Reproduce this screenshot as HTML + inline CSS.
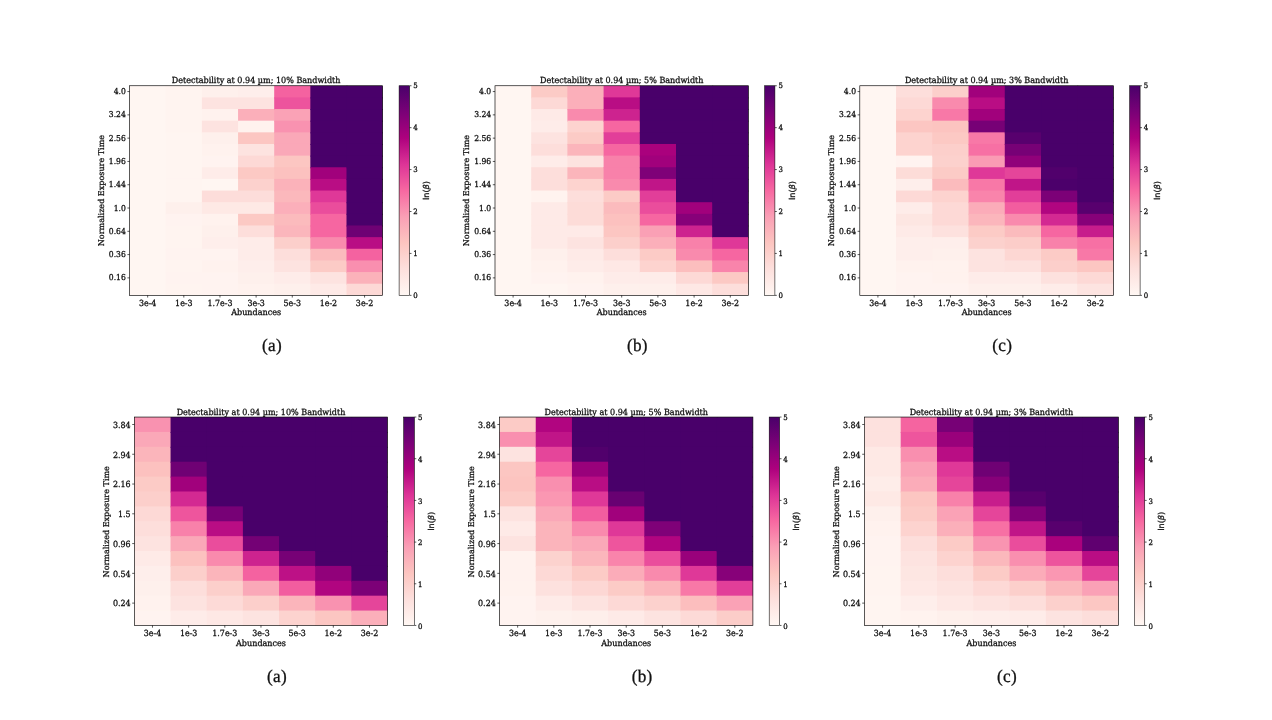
<!DOCTYPE html>
<html lang="en"><head><meta charset="utf-8"><title>Detectability heatmaps</title>
<style>
html,body{margin:0;padding:0;background:#fff;}
body{width:1272px;height:720px;overflow:hidden;}
svg{display:block;font-family:"DejaVu Serif","Liberation Serif",serif;}
text{fill:#111;stroke:#111;stroke-width:0.28px;text-rendering:geometricPrecision;}
</style></head><body>
<svg width="1272" height="720" viewBox="0 0 1272 720">
<defs><linearGradient id="rdpu" x1="0" y1="1" x2="0" y2="0"><stop offset="0.0000" stop-color="#fff7f3"/><stop offset="0.1250" stop-color="#fde0dd"/><stop offset="0.2500" stop-color="#fcc5c0"/><stop offset="0.3750" stop-color="#fa9fb5"/><stop offset="0.5000" stop-color="#f768a1"/><stop offset="0.6250" stop-color="#dd3497"/><stop offset="0.7500" stop-color="#ae017e"/><stop offset="0.8750" stop-color="#7a0177"/><stop offset="1.0000" stop-color="#49006a"/></linearGradient></defs>
<rect x="0" y="0" width="1272" height="720" fill="#ffffff"/>
<g>
<rect x="129.60" y="85.75" width="37.15" height="12.64" fill="#fff6f2"/>
<rect x="129.60" y="97.39" width="37.15" height="12.64" fill="#fff6f2"/>
<rect x="129.60" y="109.04" width="37.15" height="12.64" fill="#fff6f2"/>
<rect x="129.60" y="120.68" width="37.15" height="12.64" fill="#fff6f2"/>
<rect x="129.60" y="132.33" width="37.15" height="12.64" fill="#fff6f2"/>
<rect x="129.60" y="143.97" width="37.15" height="12.64" fill="#fff6f2"/>
<rect x="129.60" y="155.62" width="37.15" height="12.64" fill="#fff6f2"/>
<rect x="129.60" y="167.26" width="37.15" height="12.64" fill="#fff6f2"/>
<rect x="129.60" y="178.91" width="37.15" height="12.64" fill="#fff6f2"/>
<rect x="129.60" y="190.55" width="37.15" height="12.64" fill="#fff6f2"/>
<rect x="129.60" y="202.19" width="37.15" height="12.64" fill="#fff6f2"/>
<rect x="129.60" y="213.84" width="37.15" height="12.64" fill="#fff6f2"/>
<rect x="129.60" y="225.48" width="37.15" height="12.64" fill="#fff6f2"/>
<rect x="129.60" y="237.13" width="37.15" height="12.64" fill="#fff6f2"/>
<rect x="129.60" y="248.77" width="37.15" height="12.64" fill="#fff6f2"/>
<rect x="129.60" y="260.42" width="37.15" height="12.64" fill="#fff6f2"/>
<rect x="129.60" y="272.06" width="37.15" height="12.64" fill="#fff6f2"/>
<rect x="129.60" y="283.71" width="37.15" height="11.64" fill="#fff6f2"/>
<rect x="165.75" y="85.75" width="37.15" height="12.64" fill="#fff4f0"/>
<rect x="165.75" y="97.39" width="37.15" height="12.64" fill="#fff4f0"/>
<rect x="165.75" y="109.04" width="37.15" height="12.64" fill="#fff4f0"/>
<rect x="165.75" y="120.68" width="37.15" height="12.64" fill="#fff4f0"/>
<rect x="165.75" y="132.33" width="37.15" height="12.64" fill="#fff5f1"/>
<rect x="165.75" y="143.97" width="37.15" height="12.64" fill="#fff5f1"/>
<rect x="165.75" y="155.62" width="37.15" height="12.64" fill="#fff5f1"/>
<rect x="165.75" y="167.26" width="37.15" height="12.64" fill="#fff5f1"/>
<rect x="165.75" y="178.91" width="37.15" height="12.64" fill="#fff5f1"/>
<rect x="165.75" y="190.55" width="37.15" height="12.64" fill="#fff5f1"/>
<rect x="165.75" y="202.19" width="37.15" height="12.64" fill="#fef0ec"/>
<rect x="165.75" y="213.84" width="37.15" height="12.64" fill="#fff3f0"/>
<rect x="165.75" y="225.48" width="37.15" height="12.64" fill="#fff4f0"/>
<rect x="165.75" y="237.13" width="37.15" height="12.64" fill="#fff4f0"/>
<rect x="165.75" y="248.77" width="37.15" height="12.64" fill="#fff3f0"/>
<rect x="165.75" y="260.42" width="37.15" height="12.64" fill="#fff4f0"/>
<rect x="165.75" y="272.06" width="37.15" height="12.64" fill="#fff3f0"/>
<rect x="165.75" y="283.71" width="37.15" height="11.64" fill="#fff4f0"/>
<rect x="201.90" y="85.75" width="37.15" height="12.64" fill="#fef0ec"/>
<rect x="201.90" y="97.39" width="37.15" height="12.64" fill="#fde3e0"/>
<rect x="201.90" y="109.04" width="37.15" height="12.64" fill="#fff2ee"/>
<rect x="201.90" y="120.68" width="37.15" height="12.64" fill="#fde3e0"/>
<rect x="201.90" y="132.33" width="37.15" height="12.64" fill="#fef0ec"/>
<rect x="201.90" y="143.97" width="37.15" height="12.64" fill="#fff2ee"/>
<rect x="201.90" y="155.62" width="37.15" height="12.64" fill="#fff3f0"/>
<rect x="201.90" y="167.26" width="37.15" height="12.64" fill="#feece9"/>
<rect x="201.90" y="178.91" width="37.15" height="12.64" fill="#fff6f2"/>
<rect x="201.90" y="190.55" width="37.15" height="12.64" fill="#fdddda"/>
<rect x="201.90" y="202.19" width="37.15" height="12.64" fill="#fee9e5"/>
<rect x="201.90" y="213.84" width="37.15" height="12.64" fill="#fff2ee"/>
<rect x="201.90" y="225.48" width="37.15" height="12.64" fill="#fef0ec"/>
<rect x="201.90" y="237.13" width="37.15" height="12.64" fill="#feeeeb"/>
<rect x="201.90" y="248.77" width="37.15" height="12.64" fill="#fff3f0"/>
<rect x="201.90" y="260.42" width="37.15" height="12.64" fill="#fff2ee"/>
<rect x="201.90" y="272.06" width="37.15" height="12.64" fill="#fff3f0"/>
<rect x="201.90" y="283.71" width="37.15" height="11.64" fill="#fff3f0"/>
<rect x="238.05" y="85.75" width="37.15" height="12.64" fill="#feeeeb"/>
<rect x="238.05" y="97.39" width="37.15" height="12.64" fill="#fde3e0"/>
<rect x="238.05" y="109.04" width="37.15" height="12.64" fill="#fbafba"/>
<rect x="238.05" y="120.68" width="37.15" height="12.64" fill="#fff2ee"/>
<rect x="238.05" y="132.33" width="37.15" height="12.64" fill="#fcc6c2"/>
<rect x="238.05" y="143.97" width="37.15" height="12.64" fill="#fde3e0"/>
<rect x="238.05" y="155.62" width="37.15" height="12.64" fill="#fdd9d6"/>
<rect x="238.05" y="167.26" width="37.15" height="12.64" fill="#fcc9c4"/>
<rect x="238.05" y="178.91" width="37.15" height="12.64" fill="#fcd1cd"/>
<rect x="238.05" y="190.55" width="37.15" height="12.64" fill="#fdddda"/>
<rect x="238.05" y="202.19" width="37.15" height="12.64" fill="#fee9e5"/>
<rect x="238.05" y="213.84" width="37.15" height="12.64" fill="#fcc9c4"/>
<rect x="238.05" y="225.48" width="37.15" height="12.64" fill="#fddedb"/>
<rect x="238.05" y="237.13" width="37.15" height="12.64" fill="#feece9"/>
<rect x="238.05" y="248.77" width="37.15" height="12.64" fill="#feece9"/>
<rect x="238.05" y="260.42" width="37.15" height="12.64" fill="#feeeeb"/>
<rect x="238.05" y="272.06" width="37.15" height="12.64" fill="#fef0ec"/>
<rect x="238.05" y="283.71" width="37.15" height="11.64" fill="#fff2ee"/>
<rect x="274.20" y="85.75" width="37.15" height="12.64" fill="#f462a0"/>
<rect x="274.20" y="97.39" width="37.15" height="12.64" fill="#ed549d"/>
<rect x="274.20" y="109.04" width="37.15" height="12.64" fill="#faa2b6"/>
<rect x="274.20" y="120.68" width="37.15" height="12.64" fill="#f992b0"/>
<rect x="274.20" y="132.33" width="37.15" height="12.64" fill="#faa8b8"/>
<rect x="274.20" y="143.97" width="37.15" height="12.64" fill="#faa8b8"/>
<rect x="274.20" y="155.62" width="37.15" height="12.64" fill="#fcc6c2"/>
<rect x="274.20" y="167.26" width="37.15" height="12.64" fill="#fcc1bf"/>
<rect x="274.20" y="178.91" width="37.15" height="12.64" fill="#fbb2ba"/>
<rect x="274.20" y="190.55" width="37.15" height="12.64" fill="#fbb8bc"/>
<rect x="274.20" y="202.19" width="37.15" height="12.64" fill="#fbafba"/>
<rect x="274.20" y="213.84" width="37.15" height="12.64" fill="#fbbbbd"/>
<rect x="274.20" y="225.48" width="37.15" height="12.64" fill="#fbb6bc"/>
<rect x="274.20" y="237.13" width="37.15" height="12.64" fill="#fccfcb"/>
<rect x="274.20" y="248.77" width="37.15" height="12.64" fill="#fddedb"/>
<rect x="274.20" y="260.42" width="37.15" height="12.64" fill="#fde3e0"/>
<rect x="274.20" y="272.06" width="37.15" height="12.64" fill="#feece9"/>
<rect x="274.20" y="283.71" width="37.15" height="11.64" fill="#fef0ec"/>
<rect x="310.35" y="85.75" width="37.15" height="12.64" fill="#49006a"/>
<rect x="310.35" y="97.39" width="37.15" height="12.64" fill="#49006a"/>
<rect x="310.35" y="109.04" width="37.15" height="12.64" fill="#49006a"/>
<rect x="310.35" y="120.68" width="37.15" height="12.64" fill="#49006a"/>
<rect x="310.35" y="132.33" width="37.15" height="12.64" fill="#49006a"/>
<rect x="310.35" y="143.97" width="37.15" height="12.64" fill="#49006a"/>
<rect x="310.35" y="155.62" width="37.15" height="12.64" fill="#49006a"/>
<rect x="310.35" y="167.26" width="37.15" height="12.64" fill="#a1017c"/>
<rect x="310.35" y="178.91" width="37.15" height="12.64" fill="#b90d84"/>
<rect x="310.35" y="190.55" width="37.15" height="12.64" fill="#df3898"/>
<rect x="310.35" y="202.19" width="37.15" height="12.64" fill="#ea4d9c"/>
<rect x="310.35" y="213.84" width="37.15" height="12.64" fill="#f666a1"/>
<rect x="310.35" y="225.48" width="37.15" height="12.64" fill="#f666a1"/>
<rect x="310.35" y="237.13" width="37.15" height="12.64" fill="#f98aad"/>
<rect x="310.35" y="248.77" width="37.15" height="12.64" fill="#fbbbbd"/>
<rect x="310.35" y="260.42" width="37.15" height="12.64" fill="#fccbc6"/>
<rect x="310.35" y="272.06" width="37.15" height="12.64" fill="#fde3e0"/>
<rect x="310.35" y="283.71" width="37.15" height="11.64" fill="#feeae7"/>
<rect x="346.50" y="85.75" width="36.15" height="12.64" fill="#49006a"/>
<rect x="346.50" y="97.39" width="36.15" height="12.64" fill="#49006a"/>
<rect x="346.50" y="109.04" width="36.15" height="12.64" fill="#49006a"/>
<rect x="346.50" y="120.68" width="36.15" height="12.64" fill="#49006a"/>
<rect x="346.50" y="132.33" width="36.15" height="12.64" fill="#49006a"/>
<rect x="346.50" y="143.97" width="36.15" height="12.64" fill="#49006a"/>
<rect x="346.50" y="155.62" width="36.15" height="12.64" fill="#49006a"/>
<rect x="346.50" y="167.26" width="36.15" height="12.64" fill="#49006a"/>
<rect x="346.50" y="178.91" width="36.15" height="12.64" fill="#49006a"/>
<rect x="346.50" y="190.55" width="36.15" height="12.64" fill="#49006a"/>
<rect x="346.50" y="202.19" width="36.15" height="12.64" fill="#49006a"/>
<rect x="346.50" y="213.84" width="36.15" height="12.64" fill="#49006a"/>
<rect x="346.50" y="225.48" width="36.15" height="12.64" fill="#6f0174"/>
<rect x="346.50" y="237.13" width="36.15" height="12.64" fill="#b90d84"/>
<rect x="346.50" y="248.77" width="36.15" height="12.64" fill="#f462a0"/>
<rect x="346.50" y="260.42" width="36.15" height="12.64" fill="#f98faf"/>
<rect x="346.50" y="272.06" width="36.15" height="12.64" fill="#fbb2ba"/>
<rect x="346.50" y="283.71" width="36.15" height="11.64" fill="#fdd9d6"/>
<rect x="129.60" y="85.75" width="253.05" height="209.60" fill="none" stroke="#000" stroke-width="0.65"/>
<line x1="147.67" y1="295.35" x2="147.67" y2="297.55" stroke="#000" stroke-width="0.65"/>
<text transform="translate(147.67,305.65) scale(1,1.06)" text-anchor="middle" font-size="7.95">3e-4</text>
<line x1="183.82" y1="295.35" x2="183.82" y2="297.55" stroke="#000" stroke-width="0.65"/>
<text transform="translate(183.82,305.65) scale(1,1.06)" text-anchor="middle" font-size="7.95">1e-3</text>
<line x1="219.97" y1="295.35" x2="219.97" y2="297.55" stroke="#000" stroke-width="0.65"/>
<text transform="translate(219.97,305.65) scale(1,1.06)" text-anchor="middle" font-size="7.95">1.7e-3</text>
<line x1="256.12" y1="295.35" x2="256.12" y2="297.55" stroke="#000" stroke-width="0.65"/>
<text transform="translate(256.12,305.65) scale(1,1.06)" text-anchor="middle" font-size="7.95">3e-3</text>
<line x1="292.27" y1="295.35" x2="292.27" y2="297.55" stroke="#000" stroke-width="0.65"/>
<text transform="translate(292.27,305.65) scale(1,1.06)" text-anchor="middle" font-size="7.95">5e-3</text>
<line x1="328.42" y1="295.35" x2="328.42" y2="297.55" stroke="#000" stroke-width="0.65"/>
<text transform="translate(328.42,305.65) scale(1,1.06)" text-anchor="middle" font-size="7.95">1e-2</text>
<line x1="364.57" y1="295.35" x2="364.57" y2="297.55" stroke="#000" stroke-width="0.65"/>
<text transform="translate(364.57,305.65) scale(1,1.06)" text-anchor="middle" font-size="7.95">3e-2</text>
<text transform="translate(256.12,315.25) scale(1,1.06)" text-anchor="middle" font-size="8.05">Abundances</text>
<line x1="127.40" y1="91.57" x2="129.60" y2="91.57" stroke="#000" stroke-width="0.65"/>
<text transform="translate(125.80,94.07) scale(1,1.06)" text-anchor="end" font-size="7.65">4.0</text>
<line x1="127.40" y1="114.86" x2="129.60" y2="114.86" stroke="#000" stroke-width="0.65"/>
<text transform="translate(125.80,117.36) scale(1,1.06)" text-anchor="end" font-size="7.65">3.24</text>
<line x1="127.40" y1="138.15" x2="129.60" y2="138.15" stroke="#000" stroke-width="0.65"/>
<text transform="translate(125.80,140.65) scale(1,1.06)" text-anchor="end" font-size="7.65">2.56</text>
<line x1="127.40" y1="161.44" x2="129.60" y2="161.44" stroke="#000" stroke-width="0.65"/>
<text transform="translate(125.80,163.94) scale(1,1.06)" text-anchor="end" font-size="7.65">1.96</text>
<line x1="127.40" y1="184.73" x2="129.60" y2="184.73" stroke="#000" stroke-width="0.65"/>
<text transform="translate(125.80,187.23) scale(1,1.06)" text-anchor="end" font-size="7.65">1.44</text>
<line x1="127.40" y1="208.02" x2="129.60" y2="208.02" stroke="#000" stroke-width="0.65"/>
<text transform="translate(125.80,210.52) scale(1,1.06)" text-anchor="end" font-size="7.65">1.0</text>
<line x1="127.40" y1="231.31" x2="129.60" y2="231.31" stroke="#000" stroke-width="0.65"/>
<text transform="translate(125.80,233.81) scale(1,1.06)" text-anchor="end" font-size="7.65">0.64</text>
<line x1="127.40" y1="254.59" x2="129.60" y2="254.59" stroke="#000" stroke-width="0.65"/>
<text transform="translate(125.80,257.09) scale(1,1.06)" text-anchor="end" font-size="7.65">0.36</text>
<line x1="127.40" y1="277.88" x2="129.60" y2="277.88" stroke="#000" stroke-width="0.65"/>
<text transform="translate(125.80,280.38) scale(1,1.06)" text-anchor="end" font-size="7.65">0.16</text>
<text transform="translate(103.90,190.55) rotate(-90)" text-anchor="middle" font-size="8.05">Normalized Exposure Time</text>
<text transform="translate(256.12,82.90) scale(1,1.06)" text-anchor="middle" font-size="8.05">Detectability at 0.94 µm; 10% Bandwidth</text>
<rect x="399.10" y="85.75" width="10.50" height="209.60" fill="url(#rdpu)" stroke="#000" stroke-width="0.55"/>
<line x1="409.60" y1="295.35" x2="411.50" y2="295.35" stroke="#000" stroke-width="0.65"/>
<text transform="translate(413.30,298.05) scale(1,1.06)" text-anchor="start" font-size="7.0">0</text>
<line x1="409.60" y1="253.43" x2="411.50" y2="253.43" stroke="#000" stroke-width="0.65"/>
<text transform="translate(413.30,256.13) scale(1,1.06)" text-anchor="start" font-size="7.0">1</text>
<line x1="409.60" y1="211.51" x2="411.50" y2="211.51" stroke="#000" stroke-width="0.65"/>
<text transform="translate(413.30,214.21) scale(1,1.06)" text-anchor="start" font-size="7.0">2</text>
<line x1="409.60" y1="169.59" x2="411.50" y2="169.59" stroke="#000" stroke-width="0.65"/>
<text transform="translate(413.30,172.29) scale(1,1.06)" text-anchor="start" font-size="7.0">3</text>
<line x1="409.60" y1="127.67" x2="411.50" y2="127.67" stroke="#000" stroke-width="0.65"/>
<text transform="translate(413.30,130.37) scale(1,1.06)" text-anchor="start" font-size="7.0">4</text>
<line x1="409.60" y1="85.75" x2="411.50" y2="85.75" stroke="#000" stroke-width="0.65"/>
<text transform="translate(413.30,88.45) scale(1,1.06)" text-anchor="start" font-size="7.0">5</text>
<text transform="translate(429.20,190.55) rotate(-90)" text-anchor="middle" font-size="8.15" font-family="'DejaVu Sans','Liberation Sans',sans-serif">ln(<tspan font-style="italic">β</tspan>)</text>
<text transform="translate(272.00,351.00) scale(1.08,1.12)" text-anchor="middle" font-size="15.9" letter-spacing="0.3" font-family="'Liberation Serif','DejaVu Serif',serif" class="cap">(a)</text>
</g>
<g>
<rect x="495.00" y="85.75" width="37.20" height="12.64" fill="#fff6f2"/>
<rect x="495.00" y="97.39" width="37.20" height="12.64" fill="#fff6f2"/>
<rect x="495.00" y="109.04" width="37.20" height="12.64" fill="#fff6f2"/>
<rect x="495.00" y="120.68" width="37.20" height="12.64" fill="#fff6f2"/>
<rect x="495.00" y="132.33" width="37.20" height="12.64" fill="#fff6f2"/>
<rect x="495.00" y="143.97" width="37.20" height="12.64" fill="#fff6f2"/>
<rect x="495.00" y="155.62" width="37.20" height="12.64" fill="#fff6f2"/>
<rect x="495.00" y="167.26" width="37.20" height="12.64" fill="#fff6f2"/>
<rect x="495.00" y="178.91" width="37.20" height="12.64" fill="#fff6f2"/>
<rect x="495.00" y="190.55" width="37.20" height="12.64" fill="#fff6f2"/>
<rect x="495.00" y="202.19" width="37.20" height="12.64" fill="#fff6f2"/>
<rect x="495.00" y="213.84" width="37.20" height="12.64" fill="#fff6f2"/>
<rect x="495.00" y="225.48" width="37.20" height="12.64" fill="#fff6f2"/>
<rect x="495.00" y="237.13" width="37.20" height="12.64" fill="#fff6f2"/>
<rect x="495.00" y="248.77" width="37.20" height="12.64" fill="#fff6f2"/>
<rect x="495.00" y="260.42" width="37.20" height="12.64" fill="#fff6f2"/>
<rect x="495.00" y="272.06" width="37.20" height="12.64" fill="#fff6f2"/>
<rect x="495.00" y="283.71" width="37.20" height="11.64" fill="#fff6f2"/>
<rect x="531.20" y="85.75" width="37.20" height="12.64" fill="#fccbc6"/>
<rect x="531.20" y="97.39" width="37.20" height="12.64" fill="#fdd9d6"/>
<rect x="531.20" y="109.04" width="37.20" height="12.64" fill="#feeae7"/>
<rect x="531.20" y="120.68" width="37.20" height="12.64" fill="#feece9"/>
<rect x="531.20" y="132.33" width="37.20" height="12.64" fill="#fde3e0"/>
<rect x="531.20" y="143.97" width="37.20" height="12.64" fill="#fddedb"/>
<rect x="531.20" y="155.62" width="37.20" height="12.64" fill="#feece9"/>
<rect x="531.20" y="167.26" width="37.20" height="12.64" fill="#fddedb"/>
<rect x="531.20" y="178.91" width="37.20" height="12.64" fill="#fddedb"/>
<rect x="531.20" y="190.55" width="37.20" height="12.64" fill="#fff3ef"/>
<rect x="531.20" y="202.19" width="37.20" height="12.64" fill="#feeae7"/>
<rect x="531.20" y="213.84" width="37.20" height="12.64" fill="#feeae7"/>
<rect x="531.20" y="225.48" width="37.20" height="12.64" fill="#feeae7"/>
<rect x="531.20" y="237.13" width="37.20" height="12.64" fill="#feeae7"/>
<rect x="531.20" y="248.77" width="37.20" height="12.64" fill="#fef0ec"/>
<rect x="531.20" y="260.42" width="37.20" height="12.64" fill="#fff2ee"/>
<rect x="531.20" y="272.06" width="37.20" height="12.64" fill="#fff3f0"/>
<rect x="531.20" y="283.71" width="37.20" height="11.64" fill="#fff6f2"/>
<rect x="567.40" y="85.75" width="37.20" height="12.64" fill="#fbafba"/>
<rect x="567.40" y="97.39" width="37.20" height="12.64" fill="#fbafba"/>
<rect x="567.40" y="109.04" width="37.20" height="12.64" fill="#f98aad"/>
<rect x="567.40" y="120.68" width="37.20" height="12.64" fill="#fdd3cf"/>
<rect x="567.40" y="132.33" width="37.20" height="12.64" fill="#fccbc6"/>
<rect x="567.40" y="143.97" width="37.20" height="12.64" fill="#fbb5bb"/>
<rect x="567.40" y="155.62" width="37.20" height="12.64" fill="#fde3e0"/>
<rect x="567.40" y="167.26" width="37.20" height="12.64" fill="#fbb5bb"/>
<rect x="567.40" y="178.91" width="37.20" height="12.64" fill="#fdd3cf"/>
<rect x="567.40" y="190.55" width="37.20" height="12.64" fill="#fddedb"/>
<rect x="567.40" y="202.19" width="37.20" height="12.64" fill="#fddcd8"/>
<rect x="567.40" y="213.84" width="37.20" height="12.64" fill="#fddcd8"/>
<rect x="567.40" y="225.48" width="37.20" height="12.64" fill="#feeae7"/>
<rect x="567.40" y="237.13" width="37.20" height="12.64" fill="#fde3e0"/>
<rect x="567.40" y="248.77" width="37.20" height="12.64" fill="#feeae7"/>
<rect x="567.40" y="260.42" width="37.20" height="12.64" fill="#feece9"/>
<rect x="567.40" y="272.06" width="37.20" height="12.64" fill="#fff2ee"/>
<rect x="567.40" y="283.71" width="37.20" height="11.64" fill="#fff3f0"/>
<rect x="603.60" y="85.75" width="37.20" height="12.64" fill="#df3898"/>
<rect x="603.60" y="97.39" width="37.20" height="12.64" fill="#b90d84"/>
<rect x="603.60" y="109.04" width="37.20" height="12.64" fill="#cd238f"/>
<rect x="603.60" y="120.68" width="37.20" height="12.64" fill="#f666a1"/>
<rect x="603.60" y="132.33" width="37.20" height="12.64" fill="#e23e99"/>
<rect x="603.60" y="143.97" width="37.20" height="12.64" fill="#f666a1"/>
<rect x="603.60" y="155.62" width="37.20" height="12.64" fill="#f881aa"/>
<rect x="603.60" y="167.26" width="37.20" height="12.64" fill="#f881aa"/>
<rect x="603.60" y="178.91" width="37.20" height="12.64" fill="#f98aad"/>
<rect x="603.60" y="190.55" width="37.20" height="12.64" fill="#fccbc6"/>
<rect x="603.60" y="202.19" width="37.20" height="12.64" fill="#fbbbbd"/>
<rect x="603.60" y="213.84" width="37.20" height="12.64" fill="#fcc1bf"/>
<rect x="603.60" y="225.48" width="37.20" height="12.64" fill="#fcc6c2"/>
<rect x="603.60" y="237.13" width="37.20" height="12.64" fill="#fccfcb"/>
<rect x="603.60" y="248.77" width="37.20" height="12.64" fill="#fddedb"/>
<rect x="603.60" y="260.42" width="37.20" height="12.64" fill="#fee8e5"/>
<rect x="603.60" y="272.06" width="37.20" height="12.64" fill="#feece9"/>
<rect x="603.60" y="283.71" width="37.20" height="11.64" fill="#fef0ec"/>
<rect x="639.80" y="85.75" width="37.20" height="12.64" fill="#49006a"/>
<rect x="639.80" y="97.39" width="37.20" height="12.64" fill="#49006a"/>
<rect x="639.80" y="109.04" width="37.20" height="12.64" fill="#49006a"/>
<rect x="639.80" y="120.68" width="37.20" height="12.64" fill="#49006a"/>
<rect x="639.80" y="132.33" width="37.20" height="12.64" fill="#49006a"/>
<rect x="639.80" y="143.97" width="37.20" height="12.64" fill="#aa017d"/>
<rect x="639.80" y="155.62" width="37.20" height="12.64" fill="#a1017c"/>
<rect x="639.80" y="167.26" width="37.20" height="12.64" fill="#7f0178"/>
<rect x="639.80" y="178.91" width="37.20" height="12.64" fill="#c01588"/>
<rect x="639.80" y="190.55" width="37.20" height="12.64" fill="#e23e99"/>
<rect x="639.80" y="202.19" width="37.20" height="12.64" fill="#ea4d9c"/>
<rect x="639.80" y="213.84" width="37.20" height="12.64" fill="#f666a1"/>
<rect x="639.80" y="225.48" width="37.20" height="12.64" fill="#faa0b5"/>
<rect x="639.80" y="237.13" width="37.20" height="12.64" fill="#fbafba"/>
<rect x="639.80" y="248.77" width="37.20" height="12.64" fill="#fccbc6"/>
<rect x="639.80" y="260.42" width="37.20" height="12.64" fill="#fdd3cf"/>
<rect x="639.80" y="272.06" width="37.20" height="12.64" fill="#feece9"/>
<rect x="639.80" y="283.71" width="37.20" height="11.64" fill="#fef0ec"/>
<rect x="676.00" y="85.75" width="37.20" height="12.64" fill="#49006a"/>
<rect x="676.00" y="97.39" width="37.20" height="12.64" fill="#49006a"/>
<rect x="676.00" y="109.04" width="37.20" height="12.64" fill="#49006a"/>
<rect x="676.00" y="120.68" width="37.20" height="12.64" fill="#49006a"/>
<rect x="676.00" y="132.33" width="37.20" height="12.64" fill="#49006a"/>
<rect x="676.00" y="143.97" width="37.20" height="12.64" fill="#49006a"/>
<rect x="676.00" y="155.62" width="37.20" height="12.64" fill="#49006a"/>
<rect x="676.00" y="167.26" width="37.20" height="12.64" fill="#49006a"/>
<rect x="676.00" y="178.91" width="37.20" height="12.64" fill="#49006a"/>
<rect x="676.00" y="190.55" width="37.20" height="12.64" fill="#49006a"/>
<rect x="676.00" y="202.19" width="37.20" height="12.64" fill="#a1017c"/>
<rect x="676.00" y="213.84" width="37.20" height="12.64" fill="#870179"/>
<rect x="676.00" y="225.48" width="37.20" height="12.64" fill="#cd238f"/>
<rect x="676.00" y="237.13" width="37.20" height="12.64" fill="#f881aa"/>
<rect x="676.00" y="248.77" width="37.20" height="12.64" fill="#f98aad"/>
<rect x="676.00" y="260.42" width="37.20" height="12.64" fill="#fcbebe"/>
<rect x="676.00" y="272.06" width="37.20" height="12.64" fill="#fdd9d6"/>
<rect x="676.00" y="283.71" width="37.20" height="11.64" fill="#fee8e5"/>
<rect x="712.20" y="85.75" width="36.20" height="12.64" fill="#49006a"/>
<rect x="712.20" y="97.39" width="36.20" height="12.64" fill="#49006a"/>
<rect x="712.20" y="109.04" width="36.20" height="12.64" fill="#49006a"/>
<rect x="712.20" y="120.68" width="36.20" height="12.64" fill="#49006a"/>
<rect x="712.20" y="132.33" width="36.20" height="12.64" fill="#49006a"/>
<rect x="712.20" y="143.97" width="36.20" height="12.64" fill="#49006a"/>
<rect x="712.20" y="155.62" width="36.20" height="12.64" fill="#49006a"/>
<rect x="712.20" y="167.26" width="36.20" height="12.64" fill="#49006a"/>
<rect x="712.20" y="178.91" width="36.20" height="12.64" fill="#49006a"/>
<rect x="712.20" y="190.55" width="36.20" height="12.64" fill="#49006a"/>
<rect x="712.20" y="202.19" width="36.20" height="12.64" fill="#49006a"/>
<rect x="712.20" y="213.84" width="36.20" height="12.64" fill="#49006a"/>
<rect x="712.20" y="225.48" width="36.20" height="12.64" fill="#49006a"/>
<rect x="712.20" y="237.13" width="36.20" height="12.64" fill="#df3898"/>
<rect x="712.20" y="248.77" width="36.20" height="12.64" fill="#f666a1"/>
<rect x="712.20" y="260.42" width="36.20" height="12.64" fill="#f984ab"/>
<rect x="712.20" y="272.06" width="36.20" height="12.64" fill="#fcc9c4"/>
<rect x="712.20" y="283.71" width="36.20" height="11.64" fill="#fddedb"/>
<rect x="495.00" y="85.75" width="253.40" height="209.60" fill="none" stroke="#000" stroke-width="0.65"/>
<line x1="513.10" y1="295.35" x2="513.10" y2="297.55" stroke="#000" stroke-width="0.65"/>
<text transform="translate(513.10,305.65) scale(1,1.06)" text-anchor="middle" font-size="7.95">3e-4</text>
<line x1="549.30" y1="295.35" x2="549.30" y2="297.55" stroke="#000" stroke-width="0.65"/>
<text transform="translate(549.30,305.65) scale(1,1.06)" text-anchor="middle" font-size="7.95">1e-3</text>
<line x1="585.50" y1="295.35" x2="585.50" y2="297.55" stroke="#000" stroke-width="0.65"/>
<text transform="translate(585.50,305.65) scale(1,1.06)" text-anchor="middle" font-size="7.95">1.7e-3</text>
<line x1="621.70" y1="295.35" x2="621.70" y2="297.55" stroke="#000" stroke-width="0.65"/>
<text transform="translate(621.70,305.65) scale(1,1.06)" text-anchor="middle" font-size="7.95">3e-3</text>
<line x1="657.90" y1="295.35" x2="657.90" y2="297.55" stroke="#000" stroke-width="0.65"/>
<text transform="translate(657.90,305.65) scale(1,1.06)" text-anchor="middle" font-size="7.95">5e-3</text>
<line x1="694.10" y1="295.35" x2="694.10" y2="297.55" stroke="#000" stroke-width="0.65"/>
<text transform="translate(694.10,305.65) scale(1,1.06)" text-anchor="middle" font-size="7.95">1e-2</text>
<line x1="730.30" y1="295.35" x2="730.30" y2="297.55" stroke="#000" stroke-width="0.65"/>
<text transform="translate(730.30,305.65) scale(1,1.06)" text-anchor="middle" font-size="7.95">3e-2</text>
<text transform="translate(621.70,315.25) scale(1,1.06)" text-anchor="middle" font-size="8.05">Abundances</text>
<line x1="492.80" y1="91.57" x2="495.00" y2="91.57" stroke="#000" stroke-width="0.65"/>
<text transform="translate(491.20,94.07) scale(1,1.06)" text-anchor="end" font-size="7.65">4.0</text>
<line x1="492.80" y1="114.86" x2="495.00" y2="114.86" stroke="#000" stroke-width="0.65"/>
<text transform="translate(491.20,117.36) scale(1,1.06)" text-anchor="end" font-size="7.65">3.24</text>
<line x1="492.80" y1="138.15" x2="495.00" y2="138.15" stroke="#000" stroke-width="0.65"/>
<text transform="translate(491.20,140.65) scale(1,1.06)" text-anchor="end" font-size="7.65">2.56</text>
<line x1="492.80" y1="161.44" x2="495.00" y2="161.44" stroke="#000" stroke-width="0.65"/>
<text transform="translate(491.20,163.94) scale(1,1.06)" text-anchor="end" font-size="7.65">1.96</text>
<line x1="492.80" y1="184.73" x2="495.00" y2="184.73" stroke="#000" stroke-width="0.65"/>
<text transform="translate(491.20,187.23) scale(1,1.06)" text-anchor="end" font-size="7.65">1.44</text>
<line x1="492.80" y1="208.02" x2="495.00" y2="208.02" stroke="#000" stroke-width="0.65"/>
<text transform="translate(491.20,210.52) scale(1,1.06)" text-anchor="end" font-size="7.65">1.0</text>
<line x1="492.80" y1="231.31" x2="495.00" y2="231.31" stroke="#000" stroke-width="0.65"/>
<text transform="translate(491.20,233.81) scale(1,1.06)" text-anchor="end" font-size="7.65">0.64</text>
<line x1="492.80" y1="254.59" x2="495.00" y2="254.59" stroke="#000" stroke-width="0.65"/>
<text transform="translate(491.20,257.09) scale(1,1.06)" text-anchor="end" font-size="7.65">0.36</text>
<line x1="492.80" y1="277.88" x2="495.00" y2="277.88" stroke="#000" stroke-width="0.65"/>
<text transform="translate(491.20,280.38) scale(1,1.06)" text-anchor="end" font-size="7.65">0.16</text>
<text transform="translate(469.30,190.55) rotate(-90)" text-anchor="middle" font-size="8.05">Normalized Exposure Time</text>
<text transform="translate(621.70,82.90) scale(1,1.06)" text-anchor="middle" font-size="8.05">Detectability at 0.94 µm; 5% Bandwidth</text>
<rect x="764.65" y="85.75" width="10.25" height="209.60" fill="url(#rdpu)" stroke="#000" stroke-width="0.55"/>
<line x1="774.90" y1="295.35" x2="776.80" y2="295.35" stroke="#000" stroke-width="0.65"/>
<text transform="translate(778.60,298.05) scale(1,1.06)" text-anchor="start" font-size="7.0">0</text>
<line x1="774.90" y1="253.43" x2="776.80" y2="253.43" stroke="#000" stroke-width="0.65"/>
<text transform="translate(778.60,256.13) scale(1,1.06)" text-anchor="start" font-size="7.0">1</text>
<line x1="774.90" y1="211.51" x2="776.80" y2="211.51" stroke="#000" stroke-width="0.65"/>
<text transform="translate(778.60,214.21) scale(1,1.06)" text-anchor="start" font-size="7.0">2</text>
<line x1="774.90" y1="169.59" x2="776.80" y2="169.59" stroke="#000" stroke-width="0.65"/>
<text transform="translate(778.60,172.29) scale(1,1.06)" text-anchor="start" font-size="7.0">3</text>
<line x1="774.90" y1="127.67" x2="776.80" y2="127.67" stroke="#000" stroke-width="0.65"/>
<text transform="translate(778.60,130.37) scale(1,1.06)" text-anchor="start" font-size="7.0">4</text>
<line x1="774.90" y1="85.75" x2="776.80" y2="85.75" stroke="#000" stroke-width="0.65"/>
<text transform="translate(778.60,88.45) scale(1,1.06)" text-anchor="start" font-size="7.0">5</text>
<text transform="translate(794.50,190.55) rotate(-90)" text-anchor="middle" font-size="8.15" font-family="'DejaVu Sans','Liberation Sans',sans-serif">ln(<tspan font-style="italic">β</tspan>)</text>
<text transform="translate(637.40,351.00) scale(1.08,1.12)" text-anchor="middle" font-size="15.9" letter-spacing="0.3" font-family="'Liberation Serif','DejaVu Serif',serif" class="cap">(b)</text>
</g>
<g>
<rect x="859.80" y="85.75" width="37.24" height="12.64" fill="#fff6f2"/>
<rect x="859.80" y="97.39" width="37.24" height="12.64" fill="#fff6f2"/>
<rect x="859.80" y="109.04" width="37.24" height="12.64" fill="#fff6f2"/>
<rect x="859.80" y="120.68" width="37.24" height="12.64" fill="#fff6f2"/>
<rect x="859.80" y="132.33" width="37.24" height="12.64" fill="#fff6f2"/>
<rect x="859.80" y="143.97" width="37.24" height="12.64" fill="#fff6f2"/>
<rect x="859.80" y="155.62" width="37.24" height="12.64" fill="#fff6f2"/>
<rect x="859.80" y="167.26" width="37.24" height="12.64" fill="#fff6f2"/>
<rect x="859.80" y="178.91" width="37.24" height="12.64" fill="#fff6f2"/>
<rect x="859.80" y="190.55" width="37.24" height="12.64" fill="#fff6f2"/>
<rect x="859.80" y="202.19" width="37.24" height="12.64" fill="#fff6f2"/>
<rect x="859.80" y="213.84" width="37.24" height="12.64" fill="#fff6f2"/>
<rect x="859.80" y="225.48" width="37.24" height="12.64" fill="#fff6f2"/>
<rect x="859.80" y="237.13" width="37.24" height="12.64" fill="#fff6f2"/>
<rect x="859.80" y="248.77" width="37.24" height="12.64" fill="#fff6f2"/>
<rect x="859.80" y="260.42" width="37.24" height="12.64" fill="#fff6f2"/>
<rect x="859.80" y="272.06" width="37.24" height="12.64" fill="#fff6f2"/>
<rect x="859.80" y="283.71" width="37.24" height="11.64" fill="#fff6f2"/>
<rect x="896.04" y="85.75" width="37.24" height="12.64" fill="#fddedb"/>
<rect x="896.04" y="97.39" width="37.24" height="12.64" fill="#fdd9d6"/>
<rect x="896.04" y="109.04" width="37.24" height="12.64" fill="#fdd3cf"/>
<rect x="896.04" y="120.68" width="37.24" height="12.64" fill="#fcc6c2"/>
<rect x="896.04" y="132.33" width="37.24" height="12.64" fill="#fdd3cf"/>
<rect x="896.04" y="143.97" width="37.24" height="12.64" fill="#fdd3cf"/>
<rect x="896.04" y="155.62" width="37.24" height="12.64" fill="#fff3f0"/>
<rect x="896.04" y="167.26" width="37.24" height="12.64" fill="#fddcd8"/>
<rect x="896.04" y="178.91" width="37.24" height="12.64" fill="#feeeeb"/>
<rect x="896.04" y="190.55" width="37.24" height="12.64" fill="#fdd9d6"/>
<rect x="896.04" y="202.19" width="37.24" height="12.64" fill="#feece9"/>
<rect x="896.04" y="213.84" width="37.24" height="12.64" fill="#fde6e2"/>
<rect x="896.04" y="225.48" width="37.24" height="12.64" fill="#feeae7"/>
<rect x="896.04" y="237.13" width="37.24" height="12.64" fill="#feeeeb"/>
<rect x="896.04" y="248.77" width="37.24" height="12.64" fill="#feeeeb"/>
<rect x="896.04" y="260.42" width="37.24" height="12.64" fill="#fff2ee"/>
<rect x="896.04" y="272.06" width="37.24" height="12.64" fill="#fff3f0"/>
<rect x="896.04" y="283.71" width="37.24" height="11.64" fill="#fff3f0"/>
<rect x="932.29" y="85.75" width="37.24" height="12.64" fill="#fccfcb"/>
<rect x="932.29" y="97.39" width="37.24" height="12.64" fill="#f98aad"/>
<rect x="932.29" y="109.04" width="37.24" height="12.64" fill="#f878a7"/>
<rect x="932.29" y="120.68" width="37.24" height="12.64" fill="#fcc4c0"/>
<rect x="932.29" y="132.33" width="37.24" height="12.64" fill="#fcc9c4"/>
<rect x="932.29" y="143.97" width="37.24" height="12.64" fill="#fccfcb"/>
<rect x="932.29" y="155.62" width="37.24" height="12.64" fill="#fcd1cd"/>
<rect x="932.29" y="167.26" width="37.24" height="12.64" fill="#fccbc6"/>
<rect x="932.29" y="178.91" width="37.24" height="12.64" fill="#fbbbbd"/>
<rect x="932.29" y="190.55" width="37.24" height="12.64" fill="#fdd3cf"/>
<rect x="932.29" y="202.19" width="37.24" height="12.64" fill="#fdd9d6"/>
<rect x="932.29" y="213.84" width="37.24" height="12.64" fill="#fdd9d6"/>
<rect x="932.29" y="225.48" width="37.24" height="12.64" fill="#fde1de"/>
<rect x="932.29" y="237.13" width="37.24" height="12.64" fill="#feeeeb"/>
<rect x="932.29" y="248.77" width="37.24" height="12.64" fill="#fef0ec"/>
<rect x="932.29" y="260.42" width="37.24" height="12.64" fill="#fff2ee"/>
<rect x="932.29" y="272.06" width="37.24" height="12.64" fill="#fff2ee"/>
<rect x="932.29" y="283.71" width="37.24" height="11.64" fill="#fff3f0"/>
<rect x="968.53" y="85.75" width="37.24" height="12.64" fill="#a1017c"/>
<rect x="968.53" y="97.39" width="37.24" height="12.64" fill="#b90d84"/>
<rect x="968.53" y="109.04" width="37.24" height="12.64" fill="#a1017c"/>
<rect x="968.53" y="120.68" width="37.24" height="12.64" fill="#770176"/>
<rect x="968.53" y="132.33" width="37.24" height="12.64" fill="#f878a7"/>
<rect x="968.53" y="143.97" width="37.24" height="12.64" fill="#f770a4"/>
<rect x="968.53" y="155.62" width="37.24" height="12.64" fill="#fa9bb4"/>
<rect x="968.53" y="167.26" width="37.24" height="12.64" fill="#df3898"/>
<rect x="968.53" y="178.91" width="37.24" height="12.64" fill="#f878a7"/>
<rect x="968.53" y="190.55" width="37.24" height="12.64" fill="#f984ab"/>
<rect x="968.53" y="202.19" width="37.24" height="12.64" fill="#fbacb9"/>
<rect x="968.53" y="213.84" width="37.24" height="12.64" fill="#fbb6bc"/>
<rect x="968.53" y="225.48" width="37.24" height="12.64" fill="#fccbc6"/>
<rect x="968.53" y="237.13" width="37.24" height="12.64" fill="#fcd1cd"/>
<rect x="968.53" y="248.77" width="37.24" height="12.64" fill="#fde3e0"/>
<rect x="968.53" y="260.42" width="37.24" height="12.64" fill="#fde3e0"/>
<rect x="968.53" y="272.06" width="37.24" height="12.64" fill="#feece9"/>
<rect x="968.53" y="283.71" width="37.24" height="11.64" fill="#fef0ec"/>
<rect x="1004.77" y="85.75" width="37.24" height="12.64" fill="#49006a"/>
<rect x="1004.77" y="97.39" width="37.24" height="12.64" fill="#49006a"/>
<rect x="1004.77" y="109.04" width="37.24" height="12.64" fill="#49006a"/>
<rect x="1004.77" y="120.68" width="37.24" height="12.64" fill="#49006a"/>
<rect x="1004.77" y="132.33" width="37.24" height="12.64" fill="#58006e"/>
<rect x="1004.77" y="143.97" width="37.24" height="12.64" fill="#770176"/>
<rect x="1004.77" y="155.62" width="37.24" height="12.64" fill="#91017a"/>
<rect x="1004.77" y="167.26" width="37.24" height="12.64" fill="#e5459a"/>
<rect x="1004.77" y="178.91" width="37.24" height="12.64" fill="#c01588"/>
<rect x="1004.77" y="190.55" width="37.24" height="12.64" fill="#e23e99"/>
<rect x="1004.77" y="202.19" width="37.24" height="12.64" fill="#f25d9f"/>
<rect x="1004.77" y="213.84" width="37.24" height="12.64" fill="#f98aad"/>
<rect x="1004.77" y="225.48" width="37.24" height="12.64" fill="#fbbbbd"/>
<rect x="1004.77" y="237.13" width="37.24" height="12.64" fill="#fccdc9"/>
<rect x="1004.77" y="248.77" width="37.24" height="12.64" fill="#fdd7d3"/>
<rect x="1004.77" y="260.42" width="37.24" height="12.64" fill="#fde1de"/>
<rect x="1004.77" y="272.06" width="37.24" height="12.64" fill="#feece9"/>
<rect x="1004.77" y="283.71" width="37.24" height="11.64" fill="#fef0ec"/>
<rect x="1041.01" y="85.75" width="37.24" height="12.64" fill="#49006a"/>
<rect x="1041.01" y="97.39" width="37.24" height="12.64" fill="#49006a"/>
<rect x="1041.01" y="109.04" width="37.24" height="12.64" fill="#49006a"/>
<rect x="1041.01" y="120.68" width="37.24" height="12.64" fill="#49006a"/>
<rect x="1041.01" y="132.33" width="37.24" height="12.64" fill="#49006a"/>
<rect x="1041.01" y="143.97" width="37.24" height="12.64" fill="#49006a"/>
<rect x="1041.01" y="155.62" width="37.24" height="12.64" fill="#49006a"/>
<rect x="1041.01" y="167.26" width="37.24" height="12.64" fill="#51006c"/>
<rect x="1041.01" y="178.91" width="37.24" height="12.64" fill="#4c006b"/>
<rect x="1041.01" y="190.55" width="37.24" height="12.64" fill="#7c0177"/>
<rect x="1041.01" y="202.19" width="37.24" height="12.64" fill="#b10580"/>
<rect x="1041.01" y="213.84" width="37.24" height="12.64" fill="#d32992"/>
<rect x="1041.01" y="225.48" width="37.24" height="12.64" fill="#f666a1"/>
<rect x="1041.01" y="237.13" width="37.24" height="12.64" fill="#f881aa"/>
<rect x="1041.01" y="248.77" width="37.24" height="12.64" fill="#fccbc6"/>
<rect x="1041.01" y="260.42" width="37.24" height="12.64" fill="#fccfcb"/>
<rect x="1041.01" y="272.06" width="37.24" height="12.64" fill="#fde1de"/>
<rect x="1041.01" y="283.71" width="37.24" height="11.64" fill="#feece9"/>
<rect x="1077.26" y="85.75" width="36.24" height="12.64" fill="#49006a"/>
<rect x="1077.26" y="97.39" width="36.24" height="12.64" fill="#49006a"/>
<rect x="1077.26" y="109.04" width="36.24" height="12.64" fill="#49006a"/>
<rect x="1077.26" y="120.68" width="36.24" height="12.64" fill="#49006a"/>
<rect x="1077.26" y="132.33" width="36.24" height="12.64" fill="#49006a"/>
<rect x="1077.26" y="143.97" width="36.24" height="12.64" fill="#49006a"/>
<rect x="1077.26" y="155.62" width="36.24" height="12.64" fill="#49006a"/>
<rect x="1077.26" y="167.26" width="36.24" height="12.64" fill="#49006a"/>
<rect x="1077.26" y="178.91" width="36.24" height="12.64" fill="#49006a"/>
<rect x="1077.26" y="190.55" width="36.24" height="12.64" fill="#49006a"/>
<rect x="1077.26" y="202.19" width="36.24" height="12.64" fill="#58006e"/>
<rect x="1077.26" y="213.84" width="36.24" height="12.64" fill="#870179"/>
<rect x="1077.26" y="225.48" width="36.24" height="12.64" fill="#c71d8c"/>
<rect x="1077.26" y="237.13" width="36.24" height="12.64" fill="#f770a4"/>
<rect x="1077.26" y="248.77" width="36.24" height="12.64" fill="#f878a7"/>
<rect x="1077.26" y="260.42" width="36.24" height="12.64" fill="#fcc6c2"/>
<rect x="1077.26" y="272.06" width="36.24" height="12.64" fill="#fdd9d6"/>
<rect x="1077.26" y="283.71" width="36.24" height="11.64" fill="#fde4e1"/>
<rect x="859.80" y="85.75" width="253.70" height="209.60" fill="none" stroke="#000" stroke-width="0.65"/>
<line x1="877.92" y1="295.35" x2="877.92" y2="297.55" stroke="#000" stroke-width="0.65"/>
<text transform="translate(877.92,305.65) scale(1,1.06)" text-anchor="middle" font-size="7.95">3e-4</text>
<line x1="914.16" y1="295.35" x2="914.16" y2="297.55" stroke="#000" stroke-width="0.65"/>
<text transform="translate(914.16,305.65) scale(1,1.06)" text-anchor="middle" font-size="7.95">1e-3</text>
<line x1="950.41" y1="295.35" x2="950.41" y2="297.55" stroke="#000" stroke-width="0.65"/>
<text transform="translate(950.41,305.65) scale(1,1.06)" text-anchor="middle" font-size="7.95">1.7e-3</text>
<line x1="986.65" y1="295.35" x2="986.65" y2="297.55" stroke="#000" stroke-width="0.65"/>
<text transform="translate(986.65,305.65) scale(1,1.06)" text-anchor="middle" font-size="7.95">3e-3</text>
<line x1="1022.89" y1="295.35" x2="1022.89" y2="297.55" stroke="#000" stroke-width="0.65"/>
<text transform="translate(1022.89,305.65) scale(1,1.06)" text-anchor="middle" font-size="7.95">5e-3</text>
<line x1="1059.14" y1="295.35" x2="1059.14" y2="297.55" stroke="#000" stroke-width="0.65"/>
<text transform="translate(1059.14,305.65) scale(1,1.06)" text-anchor="middle" font-size="7.95">1e-2</text>
<line x1="1095.38" y1="295.35" x2="1095.38" y2="297.55" stroke="#000" stroke-width="0.65"/>
<text transform="translate(1095.38,305.65) scale(1,1.06)" text-anchor="middle" font-size="7.95">3e-2</text>
<text transform="translate(986.65,315.25) scale(1,1.06)" text-anchor="middle" font-size="8.05">Abundances</text>
<line x1="857.60" y1="91.57" x2="859.80" y2="91.57" stroke="#000" stroke-width="0.65"/>
<text transform="translate(856.00,94.07) scale(1,1.06)" text-anchor="end" font-size="7.65">4.0</text>
<line x1="857.60" y1="114.86" x2="859.80" y2="114.86" stroke="#000" stroke-width="0.65"/>
<text transform="translate(856.00,117.36) scale(1,1.06)" text-anchor="end" font-size="7.65">3.24</text>
<line x1="857.60" y1="138.15" x2="859.80" y2="138.15" stroke="#000" stroke-width="0.65"/>
<text transform="translate(856.00,140.65) scale(1,1.06)" text-anchor="end" font-size="7.65">2.56</text>
<line x1="857.60" y1="161.44" x2="859.80" y2="161.44" stroke="#000" stroke-width="0.65"/>
<text transform="translate(856.00,163.94) scale(1,1.06)" text-anchor="end" font-size="7.65">1.96</text>
<line x1="857.60" y1="184.73" x2="859.80" y2="184.73" stroke="#000" stroke-width="0.65"/>
<text transform="translate(856.00,187.23) scale(1,1.06)" text-anchor="end" font-size="7.65">1.44</text>
<line x1="857.60" y1="208.02" x2="859.80" y2="208.02" stroke="#000" stroke-width="0.65"/>
<text transform="translate(856.00,210.52) scale(1,1.06)" text-anchor="end" font-size="7.65">1.0</text>
<line x1="857.60" y1="231.31" x2="859.80" y2="231.31" stroke="#000" stroke-width="0.65"/>
<text transform="translate(856.00,233.81) scale(1,1.06)" text-anchor="end" font-size="7.65">0.64</text>
<line x1="857.60" y1="254.59" x2="859.80" y2="254.59" stroke="#000" stroke-width="0.65"/>
<text transform="translate(856.00,257.09) scale(1,1.06)" text-anchor="end" font-size="7.65">0.36</text>
<line x1="857.60" y1="277.88" x2="859.80" y2="277.88" stroke="#000" stroke-width="0.65"/>
<text transform="translate(856.00,280.38) scale(1,1.06)" text-anchor="end" font-size="7.65">0.16</text>
<text transform="translate(834.10,190.55) rotate(-90)" text-anchor="middle" font-size="8.05">Normalized Exposure Time</text>
<text transform="translate(986.65,82.90) scale(1,1.06)" text-anchor="middle" font-size="8.05">Detectability at 0.94 µm; 3% Bandwidth</text>
<rect x="1129.70" y="85.75" width="10.40" height="209.60" fill="url(#rdpu)" stroke="#000" stroke-width="0.55"/>
<line x1="1140.10" y1="295.35" x2="1142.00" y2="295.35" stroke="#000" stroke-width="0.65"/>
<text transform="translate(1143.80,298.05) scale(1,1.06)" text-anchor="start" font-size="7.0">0</text>
<line x1="1140.10" y1="253.43" x2="1142.00" y2="253.43" stroke="#000" stroke-width="0.65"/>
<text transform="translate(1143.80,256.13) scale(1,1.06)" text-anchor="start" font-size="7.0">1</text>
<line x1="1140.10" y1="211.51" x2="1142.00" y2="211.51" stroke="#000" stroke-width="0.65"/>
<text transform="translate(1143.80,214.21) scale(1,1.06)" text-anchor="start" font-size="7.0">2</text>
<line x1="1140.10" y1="169.59" x2="1142.00" y2="169.59" stroke="#000" stroke-width="0.65"/>
<text transform="translate(1143.80,172.29) scale(1,1.06)" text-anchor="start" font-size="7.0">3</text>
<line x1="1140.10" y1="127.67" x2="1142.00" y2="127.67" stroke="#000" stroke-width="0.65"/>
<text transform="translate(1143.80,130.37) scale(1,1.06)" text-anchor="start" font-size="7.0">4</text>
<line x1="1140.10" y1="85.75" x2="1142.00" y2="85.75" stroke="#000" stroke-width="0.65"/>
<text transform="translate(1143.80,88.45) scale(1,1.06)" text-anchor="start" font-size="7.0">5</text>
<text transform="translate(1159.70,190.55) rotate(-90)" text-anchor="middle" font-size="8.15" font-family="'DejaVu Sans','Liberation Sans',sans-serif">ln(<tspan font-style="italic">β</tspan>)</text>
<text transform="translate(1002.20,351.00) scale(1.08,1.12)" text-anchor="middle" font-size="15.9" letter-spacing="0.3" font-family="'Liberation Serif','DejaVu Serif',serif" class="cap">(c)</text>
</g>
<g>
<rect x="134.40" y="417.05" width="37.16" height="15.89" fill="#f992b0"/>
<rect x="134.40" y="431.94" width="37.16" height="15.89" fill="#faa8b8"/>
<rect x="134.40" y="446.82" width="37.16" height="15.89" fill="#fbb5bb"/>
<rect x="134.40" y="461.71" width="37.16" height="15.89" fill="#fcc1bf"/>
<rect x="134.40" y="476.59" width="37.16" height="15.89" fill="#fccbc6"/>
<rect x="134.40" y="491.48" width="37.16" height="15.89" fill="#fccfcb"/>
<rect x="134.40" y="506.36" width="37.16" height="15.89" fill="#fdd9d6"/>
<rect x="134.40" y="521.25" width="37.16" height="15.89" fill="#fddedb"/>
<rect x="134.40" y="536.14" width="37.16" height="15.89" fill="#fde3e0"/>
<rect x="134.40" y="551.02" width="37.16" height="15.89" fill="#feeae7"/>
<rect x="134.40" y="565.91" width="37.16" height="15.89" fill="#feeeeb"/>
<rect x="134.40" y="580.79" width="37.16" height="15.89" fill="#fef0ec"/>
<rect x="134.40" y="595.68" width="37.16" height="15.89" fill="#fff2ee"/>
<rect x="134.40" y="610.56" width="37.16" height="14.89" fill="#fff3f0"/>
<rect x="170.56" y="417.05" width="37.16" height="15.89" fill="#49006a"/>
<rect x="170.56" y="431.94" width="37.16" height="15.89" fill="#49006a"/>
<rect x="170.56" y="446.82" width="37.16" height="15.89" fill="#49006a"/>
<rect x="170.56" y="461.71" width="37.16" height="15.89" fill="#6f0174"/>
<rect x="170.56" y="476.59" width="37.16" height="15.89" fill="#a1017c"/>
<rect x="170.56" y="491.48" width="37.16" height="15.89" fill="#d32992"/>
<rect x="170.56" y="506.36" width="37.16" height="15.89" fill="#ee559d"/>
<rect x="170.56" y="521.25" width="37.16" height="15.89" fill="#f881aa"/>
<rect x="170.56" y="536.14" width="37.16" height="15.89" fill="#faa8b8"/>
<rect x="170.56" y="551.02" width="37.16" height="15.89" fill="#fcc1bf"/>
<rect x="170.56" y="565.91" width="37.16" height="15.89" fill="#fccfcb"/>
<rect x="170.56" y="580.79" width="37.16" height="15.89" fill="#fddedb"/>
<rect x="170.56" y="595.68" width="37.16" height="15.89" fill="#fde3e0"/>
<rect x="170.56" y="610.56" width="37.16" height="14.89" fill="#feece9"/>
<rect x="206.73" y="417.05" width="37.16" height="15.89" fill="#49006a"/>
<rect x="206.73" y="431.94" width="37.16" height="15.89" fill="#49006a"/>
<rect x="206.73" y="446.82" width="37.16" height="15.89" fill="#49006a"/>
<rect x="206.73" y="461.71" width="37.16" height="15.89" fill="#49006a"/>
<rect x="206.73" y="476.59" width="37.16" height="15.89" fill="#49006a"/>
<rect x="206.73" y="491.48" width="37.16" height="15.89" fill="#49006a"/>
<rect x="206.73" y="506.36" width="37.16" height="15.89" fill="#770176"/>
<rect x="206.73" y="521.25" width="37.16" height="15.89" fill="#b90d84"/>
<rect x="206.73" y="536.14" width="37.16" height="15.89" fill="#ea4d9c"/>
<rect x="206.73" y="551.02" width="37.16" height="15.89" fill="#f98aad"/>
<rect x="206.73" y="565.91" width="37.16" height="15.89" fill="#fbb5bb"/>
<rect x="206.73" y="580.79" width="37.16" height="15.89" fill="#fccfcb"/>
<rect x="206.73" y="595.68" width="37.16" height="15.89" fill="#fddad7"/>
<rect x="206.73" y="610.56" width="37.16" height="14.89" fill="#fee8e5"/>
<rect x="242.89" y="417.05" width="37.16" height="15.89" fill="#49006a"/>
<rect x="242.89" y="431.94" width="37.16" height="15.89" fill="#49006a"/>
<rect x="242.89" y="446.82" width="37.16" height="15.89" fill="#49006a"/>
<rect x="242.89" y="461.71" width="37.16" height="15.89" fill="#49006a"/>
<rect x="242.89" y="476.59" width="37.16" height="15.89" fill="#49006a"/>
<rect x="242.89" y="491.48" width="37.16" height="15.89" fill="#49006a"/>
<rect x="242.89" y="506.36" width="37.16" height="15.89" fill="#49006a"/>
<rect x="242.89" y="521.25" width="37.16" height="15.89" fill="#49006a"/>
<rect x="242.89" y="536.14" width="37.16" height="15.89" fill="#740175"/>
<rect x="242.89" y="551.02" width="37.16" height="15.89" fill="#cd238f"/>
<rect x="242.89" y="565.91" width="37.16" height="15.89" fill="#f462a0"/>
<rect x="242.89" y="580.79" width="37.16" height="15.89" fill="#faa8b8"/>
<rect x="242.89" y="595.68" width="37.16" height="15.89" fill="#fccfcb"/>
<rect x="242.89" y="610.56" width="37.16" height="14.89" fill="#fde3e0"/>
<rect x="279.06" y="417.05" width="37.16" height="15.89" fill="#49006a"/>
<rect x="279.06" y="431.94" width="37.16" height="15.89" fill="#49006a"/>
<rect x="279.06" y="446.82" width="37.16" height="15.89" fill="#49006a"/>
<rect x="279.06" y="461.71" width="37.16" height="15.89" fill="#49006a"/>
<rect x="279.06" y="476.59" width="37.16" height="15.89" fill="#49006a"/>
<rect x="279.06" y="491.48" width="37.16" height="15.89" fill="#49006a"/>
<rect x="279.06" y="506.36" width="37.16" height="15.89" fill="#49006a"/>
<rect x="279.06" y="521.25" width="37.16" height="15.89" fill="#49006a"/>
<rect x="279.06" y="536.14" width="37.16" height="15.89" fill="#49006a"/>
<rect x="279.06" y="551.02" width="37.16" height="15.89" fill="#770176"/>
<rect x="279.06" y="565.91" width="37.16" height="15.89" fill="#bd1186"/>
<rect x="279.06" y="580.79" width="37.16" height="15.89" fill="#f25d9f"/>
<rect x="279.06" y="595.68" width="37.16" height="15.89" fill="#fbb5bb"/>
<rect x="279.06" y="610.56" width="37.16" height="14.89" fill="#fdd3cf"/>
<rect x="315.22" y="417.05" width="37.16" height="15.89" fill="#49006a"/>
<rect x="315.22" y="431.94" width="37.16" height="15.89" fill="#49006a"/>
<rect x="315.22" y="446.82" width="37.16" height="15.89" fill="#49006a"/>
<rect x="315.22" y="461.71" width="37.16" height="15.89" fill="#49006a"/>
<rect x="315.22" y="476.59" width="37.16" height="15.89" fill="#49006a"/>
<rect x="315.22" y="491.48" width="37.16" height="15.89" fill="#49006a"/>
<rect x="315.22" y="506.36" width="37.16" height="15.89" fill="#49006a"/>
<rect x="315.22" y="521.25" width="37.16" height="15.89" fill="#49006a"/>
<rect x="315.22" y="536.14" width="37.16" height="15.89" fill="#49006a"/>
<rect x="315.22" y="551.02" width="37.16" height="15.89" fill="#49006a"/>
<rect x="315.22" y="565.91" width="37.16" height="15.89" fill="#91017a"/>
<rect x="315.22" y="580.79" width="37.16" height="15.89" fill="#b10580"/>
<rect x="315.22" y="595.68" width="37.16" height="15.89" fill="#f992b0"/>
<rect x="315.22" y="610.56" width="37.16" height="14.89" fill="#fcc6c2"/>
<rect x="351.39" y="417.05" width="36.16" height="15.89" fill="#49006a"/>
<rect x="351.39" y="431.94" width="36.16" height="15.89" fill="#49006a"/>
<rect x="351.39" y="446.82" width="36.16" height="15.89" fill="#49006a"/>
<rect x="351.39" y="461.71" width="36.16" height="15.89" fill="#49006a"/>
<rect x="351.39" y="476.59" width="36.16" height="15.89" fill="#49006a"/>
<rect x="351.39" y="491.48" width="36.16" height="15.89" fill="#49006a"/>
<rect x="351.39" y="506.36" width="36.16" height="15.89" fill="#49006a"/>
<rect x="351.39" y="521.25" width="36.16" height="15.89" fill="#49006a"/>
<rect x="351.39" y="536.14" width="36.16" height="15.89" fill="#49006a"/>
<rect x="351.39" y="551.02" width="36.16" height="15.89" fill="#49006a"/>
<rect x="351.39" y="565.91" width="36.16" height="15.89" fill="#49006a"/>
<rect x="351.39" y="580.79" width="36.16" height="15.89" fill="#7c0177"/>
<rect x="351.39" y="595.68" width="36.16" height="15.89" fill="#e5459a"/>
<rect x="351.39" y="610.56" width="36.16" height="14.89" fill="#fbafba"/>
<rect x="134.40" y="417.05" width="253.15" height="208.40" fill="none" stroke="#000" stroke-width="0.65"/>
<line x1="152.48" y1="625.45" x2="152.48" y2="627.65" stroke="#000" stroke-width="0.65"/>
<text transform="translate(152.48,635.75) scale(1,1.06)" text-anchor="middle" font-size="7.95">3e-4</text>
<line x1="188.65" y1="625.45" x2="188.65" y2="627.65" stroke="#000" stroke-width="0.65"/>
<text transform="translate(188.65,635.75) scale(1,1.06)" text-anchor="middle" font-size="7.95">1e-3</text>
<line x1="224.81" y1="625.45" x2="224.81" y2="627.65" stroke="#000" stroke-width="0.65"/>
<text transform="translate(224.81,635.75) scale(1,1.06)" text-anchor="middle" font-size="7.95">1.7e-3</text>
<line x1="260.98" y1="625.45" x2="260.98" y2="627.65" stroke="#000" stroke-width="0.65"/>
<text transform="translate(260.98,635.75) scale(1,1.06)" text-anchor="middle" font-size="7.95">3e-3</text>
<line x1="297.14" y1="625.45" x2="297.14" y2="627.65" stroke="#000" stroke-width="0.65"/>
<text transform="translate(297.14,635.75) scale(1,1.06)" text-anchor="middle" font-size="7.95">5e-3</text>
<line x1="333.30" y1="625.45" x2="333.30" y2="627.65" stroke="#000" stroke-width="0.65"/>
<text transform="translate(333.30,635.75) scale(1,1.06)" text-anchor="middle" font-size="7.95">1e-2</text>
<line x1="369.47" y1="625.45" x2="369.47" y2="627.65" stroke="#000" stroke-width="0.65"/>
<text transform="translate(369.47,635.75) scale(1,1.06)" text-anchor="middle" font-size="7.95">3e-2</text>
<text transform="translate(260.98,645.95) scale(1,1.06)" text-anchor="middle" font-size="8.05">Abundances</text>
<line x1="132.20" y1="424.49" x2="134.40" y2="424.49" stroke="#000" stroke-width="0.65"/>
<text transform="translate(130.60,427.84) scale(1,1.06)" text-anchor="end" font-size="7.95">3.84</text>
<line x1="132.20" y1="454.26" x2="134.40" y2="454.26" stroke="#000" stroke-width="0.65"/>
<text transform="translate(130.60,457.61) scale(1,1.06)" text-anchor="end" font-size="7.95">2.94</text>
<line x1="132.20" y1="484.04" x2="134.40" y2="484.04" stroke="#000" stroke-width="0.65"/>
<text transform="translate(130.60,487.39) scale(1,1.06)" text-anchor="end" font-size="7.95">2.16</text>
<line x1="132.20" y1="513.81" x2="134.40" y2="513.81" stroke="#000" stroke-width="0.65"/>
<text transform="translate(130.60,517.16) scale(1,1.06)" text-anchor="end" font-size="7.95">1.5</text>
<line x1="132.20" y1="543.58" x2="134.40" y2="543.58" stroke="#000" stroke-width="0.65"/>
<text transform="translate(130.60,546.93) scale(1,1.06)" text-anchor="end" font-size="7.95">0.96</text>
<line x1="132.20" y1="573.35" x2="134.40" y2="573.35" stroke="#000" stroke-width="0.65"/>
<text transform="translate(130.60,576.70) scale(1,1.06)" text-anchor="end" font-size="7.95">0.54</text>
<line x1="132.20" y1="603.12" x2="134.40" y2="603.12" stroke="#000" stroke-width="0.65"/>
<text transform="translate(130.60,606.47) scale(1,1.06)" text-anchor="end" font-size="7.95">0.24</text>
<text transform="translate(109.00,521.75) rotate(-90)" text-anchor="middle" font-size="8.05">Normalized Exposure Time</text>
<text transform="translate(260.98,414.65) scale(1,1.06)" text-anchor="middle" font-size="8.05">Detectability at 0.94 µm; 10% Bandwidth</text>
<rect x="403.70" y="417.05" width="10.70" height="208.40" fill="url(#rdpu)" stroke="#000" stroke-width="0.55"/>
<line x1="414.40" y1="625.45" x2="416.30" y2="625.45" stroke="#000" stroke-width="0.65"/>
<text transform="translate(418.10,628.75) scale(1,1.06)" text-anchor="start" font-size="7.0">0</text>
<line x1="414.40" y1="583.77" x2="416.30" y2="583.77" stroke="#000" stroke-width="0.65"/>
<text transform="translate(418.10,587.07) scale(1,1.06)" text-anchor="start" font-size="7.0">1</text>
<line x1="414.40" y1="542.09" x2="416.30" y2="542.09" stroke="#000" stroke-width="0.65"/>
<text transform="translate(418.10,545.39) scale(1,1.06)" text-anchor="start" font-size="7.0">2</text>
<line x1="414.40" y1="500.41" x2="416.30" y2="500.41" stroke="#000" stroke-width="0.65"/>
<text transform="translate(418.10,503.71) scale(1,1.06)" text-anchor="start" font-size="7.0">3</text>
<line x1="414.40" y1="458.73" x2="416.30" y2="458.73" stroke="#000" stroke-width="0.65"/>
<text transform="translate(418.10,462.03) scale(1,1.06)" text-anchor="start" font-size="7.0">4</text>
<line x1="414.40" y1="417.05" x2="416.30" y2="417.05" stroke="#000" stroke-width="0.65"/>
<text transform="translate(418.10,420.35) scale(1,1.06)" text-anchor="start" font-size="7.0">5</text>
<text transform="translate(434.00,521.25) rotate(-90)" text-anchor="middle" font-size="8.15" font-family="'DejaVu Sans','Liberation Sans',sans-serif">ln(<tspan font-style="italic">β</tspan>)</text>
<text transform="translate(277.00,682.00) scale(1.08,1.12)" text-anchor="middle" font-size="15.9" letter-spacing="0.3" font-family="'Liberation Serif','DejaVu Serif',serif" class="cap">(a)</text>
</g>
<g>
<rect x="499.55" y="417.05" width="37.19" height="15.89" fill="#fccbc6"/>
<rect x="499.55" y="431.94" width="37.19" height="15.89" fill="#f98faf"/>
<rect x="499.55" y="446.82" width="37.19" height="15.89" fill="#fde3e0"/>
<rect x="499.55" y="461.71" width="37.19" height="15.89" fill="#fcc6c2"/>
<rect x="499.55" y="476.59" width="37.19" height="15.89" fill="#fcc4c0"/>
<rect x="499.55" y="491.48" width="37.19" height="15.89" fill="#fccbc6"/>
<rect x="499.55" y="506.36" width="37.19" height="15.89" fill="#fde3e0"/>
<rect x="499.55" y="521.25" width="37.19" height="15.89" fill="#feeae7"/>
<rect x="499.55" y="536.14" width="37.19" height="15.89" fill="#fde3e0"/>
<rect x="499.55" y="551.02" width="37.19" height="15.89" fill="#fff2ee"/>
<rect x="499.55" y="565.91" width="37.19" height="15.89" fill="#fff2ee"/>
<rect x="499.55" y="580.79" width="37.19" height="15.89" fill="#fff2ee"/>
<rect x="499.55" y="595.68" width="37.19" height="15.89" fill="#fff3f0"/>
<rect x="499.55" y="610.56" width="37.19" height="14.89" fill="#fff3f0"/>
<rect x="535.74" y="417.05" width="37.19" height="15.89" fill="#b10580"/>
<rect x="535.74" y="431.94" width="37.19" height="15.89" fill="#c01588"/>
<rect x="535.74" y="446.82" width="37.19" height="15.89" fill="#e5459a"/>
<rect x="535.74" y="461.71" width="37.19" height="15.89" fill="#f666a1"/>
<rect x="535.74" y="476.59" width="37.19" height="15.89" fill="#f98faf"/>
<rect x="535.74" y="491.48" width="37.19" height="15.89" fill="#fa97b2"/>
<rect x="535.74" y="506.36" width="37.19" height="15.89" fill="#faa8b8"/>
<rect x="535.74" y="521.25" width="37.19" height="15.89" fill="#fbb4bb"/>
<rect x="535.74" y="536.14" width="37.19" height="15.89" fill="#fbb4bb"/>
<rect x="535.74" y="551.02" width="37.19" height="15.89" fill="#fcd2ce"/>
<rect x="535.74" y="565.91" width="37.19" height="15.89" fill="#fdd9d6"/>
<rect x="535.74" y="580.79" width="37.19" height="15.89" fill="#fde1de"/>
<rect x="535.74" y="595.68" width="37.19" height="15.89" fill="#feebe8"/>
<rect x="535.74" y="610.56" width="37.19" height="14.89" fill="#fef1ed"/>
<rect x="571.94" y="417.05" width="37.19" height="15.89" fill="#49006a"/>
<rect x="571.94" y="431.94" width="37.19" height="15.89" fill="#49006a"/>
<rect x="571.94" y="446.82" width="37.19" height="15.89" fill="#51006c"/>
<rect x="571.94" y="461.71" width="37.19" height="15.89" fill="#99017b"/>
<rect x="571.94" y="476.59" width="37.19" height="15.89" fill="#b90d84"/>
<rect x="571.94" y="491.48" width="37.19" height="15.89" fill="#df3898"/>
<rect x="571.94" y="506.36" width="37.19" height="15.89" fill="#f25d9f"/>
<rect x="571.94" y="521.25" width="37.19" height="15.89" fill="#f98aad"/>
<rect x="571.94" y="536.14" width="37.19" height="15.89" fill="#faa8b8"/>
<rect x="571.94" y="551.02" width="37.19" height="15.89" fill="#fbb6bc"/>
<rect x="571.94" y="565.91" width="37.19" height="15.89" fill="#fccbc6"/>
<rect x="571.94" y="580.79" width="37.19" height="15.89" fill="#fdd7d4"/>
<rect x="571.94" y="595.68" width="37.19" height="15.89" fill="#fde3e0"/>
<rect x="571.94" y="610.56" width="37.19" height="14.89" fill="#feefeb"/>
<rect x="608.13" y="417.05" width="37.19" height="15.89" fill="#49006a"/>
<rect x="608.13" y="431.94" width="37.19" height="15.89" fill="#49006a"/>
<rect x="608.13" y="446.82" width="37.19" height="15.89" fill="#49006a"/>
<rect x="608.13" y="461.71" width="37.19" height="15.89" fill="#49006a"/>
<rect x="608.13" y="476.59" width="37.19" height="15.89" fill="#49006a"/>
<rect x="608.13" y="491.48" width="37.19" height="15.89" fill="#680172"/>
<rect x="608.13" y="506.36" width="37.19" height="15.89" fill="#a1017c"/>
<rect x="608.13" y="521.25" width="37.19" height="15.89" fill="#df3898"/>
<rect x="608.13" y="536.14" width="37.19" height="15.89" fill="#ee559d"/>
<rect x="608.13" y="551.02" width="37.19" height="15.89" fill="#f984ab"/>
<rect x="608.13" y="565.91" width="37.19" height="15.89" fill="#fbacb9"/>
<rect x="608.13" y="580.79" width="37.19" height="15.89" fill="#fccbc6"/>
<rect x="608.13" y="595.68" width="37.19" height="15.89" fill="#fdd9d6"/>
<rect x="608.13" y="610.56" width="37.19" height="14.89" fill="#feeae7"/>
<rect x="644.32" y="417.05" width="37.19" height="15.89" fill="#49006a"/>
<rect x="644.32" y="431.94" width="37.19" height="15.89" fill="#49006a"/>
<rect x="644.32" y="446.82" width="37.19" height="15.89" fill="#49006a"/>
<rect x="644.32" y="461.71" width="37.19" height="15.89" fill="#49006a"/>
<rect x="644.32" y="476.59" width="37.19" height="15.89" fill="#49006a"/>
<rect x="644.32" y="491.48" width="37.19" height="15.89" fill="#49006a"/>
<rect x="644.32" y="506.36" width="37.19" height="15.89" fill="#49006a"/>
<rect x="644.32" y="521.25" width="37.19" height="15.89" fill="#7f0178"/>
<rect x="644.32" y="536.14" width="37.19" height="15.89" fill="#b10580"/>
<rect x="644.32" y="551.02" width="37.19" height="15.89" fill="#ea4d9c"/>
<rect x="644.32" y="565.91" width="37.19" height="15.89" fill="#f98aad"/>
<rect x="644.32" y="580.79" width="37.19" height="15.89" fill="#fbb5bb"/>
<rect x="644.32" y="595.68" width="37.19" height="15.89" fill="#fcd1cd"/>
<rect x="644.32" y="610.56" width="37.19" height="14.89" fill="#fde3e0"/>
<rect x="680.51" y="417.05" width="37.19" height="15.89" fill="#49006a"/>
<rect x="680.51" y="431.94" width="37.19" height="15.89" fill="#49006a"/>
<rect x="680.51" y="446.82" width="37.19" height="15.89" fill="#49006a"/>
<rect x="680.51" y="461.71" width="37.19" height="15.89" fill="#49006a"/>
<rect x="680.51" y="476.59" width="37.19" height="15.89" fill="#49006a"/>
<rect x="680.51" y="491.48" width="37.19" height="15.89" fill="#49006a"/>
<rect x="680.51" y="506.36" width="37.19" height="15.89" fill="#49006a"/>
<rect x="680.51" y="521.25" width="37.19" height="15.89" fill="#49006a"/>
<rect x="680.51" y="536.14" width="37.19" height="15.89" fill="#49006a"/>
<rect x="680.51" y="551.02" width="37.19" height="15.89" fill="#99017b"/>
<rect x="680.51" y="565.91" width="37.19" height="15.89" fill="#df3898"/>
<rect x="680.51" y="580.79" width="37.19" height="15.89" fill="#f878a7"/>
<rect x="680.51" y="595.68" width="37.19" height="15.89" fill="#fcbebe"/>
<rect x="680.51" y="610.56" width="37.19" height="14.89" fill="#fddad7"/>
<rect x="716.71" y="417.05" width="36.19" height="15.89" fill="#49006a"/>
<rect x="716.71" y="431.94" width="36.19" height="15.89" fill="#49006a"/>
<rect x="716.71" y="446.82" width="36.19" height="15.89" fill="#49006a"/>
<rect x="716.71" y="461.71" width="36.19" height="15.89" fill="#49006a"/>
<rect x="716.71" y="476.59" width="36.19" height="15.89" fill="#49006a"/>
<rect x="716.71" y="491.48" width="36.19" height="15.89" fill="#49006a"/>
<rect x="716.71" y="506.36" width="36.19" height="15.89" fill="#49006a"/>
<rect x="716.71" y="521.25" width="36.19" height="15.89" fill="#49006a"/>
<rect x="716.71" y="536.14" width="36.19" height="15.89" fill="#49006a"/>
<rect x="716.71" y="551.02" width="36.19" height="15.89" fill="#49006a"/>
<rect x="716.71" y="565.91" width="36.19" height="15.89" fill="#870179"/>
<rect x="716.71" y="580.79" width="36.19" height="15.89" fill="#e23e99"/>
<rect x="716.71" y="595.68" width="36.19" height="15.89" fill="#faa2b6"/>
<rect x="716.71" y="610.56" width="36.19" height="14.89" fill="#fccdc9"/>
<rect x="499.55" y="417.05" width="253.35" height="208.40" fill="none" stroke="#000" stroke-width="0.65"/>
<line x1="517.65" y1="625.45" x2="517.65" y2="627.65" stroke="#000" stroke-width="0.65"/>
<text transform="translate(517.65,635.75) scale(1,1.06)" text-anchor="middle" font-size="7.95">3e-4</text>
<line x1="553.84" y1="625.45" x2="553.84" y2="627.65" stroke="#000" stroke-width="0.65"/>
<text transform="translate(553.84,635.75) scale(1,1.06)" text-anchor="middle" font-size="7.95">1e-3</text>
<line x1="590.03" y1="625.45" x2="590.03" y2="627.65" stroke="#000" stroke-width="0.65"/>
<text transform="translate(590.03,635.75) scale(1,1.06)" text-anchor="middle" font-size="7.95">1.7e-3</text>
<line x1="626.23" y1="625.45" x2="626.23" y2="627.65" stroke="#000" stroke-width="0.65"/>
<text transform="translate(626.23,635.75) scale(1,1.06)" text-anchor="middle" font-size="7.95">3e-3</text>
<line x1="662.42" y1="625.45" x2="662.42" y2="627.65" stroke="#000" stroke-width="0.65"/>
<text transform="translate(662.42,635.75) scale(1,1.06)" text-anchor="middle" font-size="7.95">5e-3</text>
<line x1="698.61" y1="625.45" x2="698.61" y2="627.65" stroke="#000" stroke-width="0.65"/>
<text transform="translate(698.61,635.75) scale(1,1.06)" text-anchor="middle" font-size="7.95">1e-2</text>
<line x1="734.80" y1="625.45" x2="734.80" y2="627.65" stroke="#000" stroke-width="0.65"/>
<text transform="translate(734.80,635.75) scale(1,1.06)" text-anchor="middle" font-size="7.95">3e-2</text>
<text transform="translate(626.23,645.95) scale(1,1.06)" text-anchor="middle" font-size="8.05">Abundances</text>
<line x1="497.35" y1="424.49" x2="499.55" y2="424.49" stroke="#000" stroke-width="0.65"/>
<text transform="translate(495.75,427.84) scale(1,1.06)" text-anchor="end" font-size="7.95">3.84</text>
<line x1="497.35" y1="454.26" x2="499.55" y2="454.26" stroke="#000" stroke-width="0.65"/>
<text transform="translate(495.75,457.61) scale(1,1.06)" text-anchor="end" font-size="7.95">2.94</text>
<line x1="497.35" y1="484.04" x2="499.55" y2="484.04" stroke="#000" stroke-width="0.65"/>
<text transform="translate(495.75,487.39) scale(1,1.06)" text-anchor="end" font-size="7.95">2.16</text>
<line x1="497.35" y1="513.81" x2="499.55" y2="513.81" stroke="#000" stroke-width="0.65"/>
<text transform="translate(495.75,517.16) scale(1,1.06)" text-anchor="end" font-size="7.95">1.5</text>
<line x1="497.35" y1="543.58" x2="499.55" y2="543.58" stroke="#000" stroke-width="0.65"/>
<text transform="translate(495.75,546.93) scale(1,1.06)" text-anchor="end" font-size="7.95">0.96</text>
<line x1="497.35" y1="573.35" x2="499.55" y2="573.35" stroke="#000" stroke-width="0.65"/>
<text transform="translate(495.75,576.70) scale(1,1.06)" text-anchor="end" font-size="7.95">0.54</text>
<line x1="497.35" y1="603.12" x2="499.55" y2="603.12" stroke="#000" stroke-width="0.65"/>
<text transform="translate(495.75,606.47) scale(1,1.06)" text-anchor="end" font-size="7.95">0.24</text>
<text transform="translate(474.15,521.75) rotate(-90)" text-anchor="middle" font-size="8.05">Normalized Exposure Time</text>
<text transform="translate(626.23,414.65) scale(1,1.06)" text-anchor="middle" font-size="8.05">Detectability at 0.94 µm; 5% Bandwidth</text>
<rect x="769.20" y="417.05" width="10.40" height="208.40" fill="url(#rdpu)" stroke="#000" stroke-width="0.55"/>
<line x1="779.60" y1="625.45" x2="781.50" y2="625.45" stroke="#000" stroke-width="0.65"/>
<text transform="translate(783.30,628.75) scale(1,1.06)" text-anchor="start" font-size="7.0">0</text>
<line x1="779.60" y1="583.77" x2="781.50" y2="583.77" stroke="#000" stroke-width="0.65"/>
<text transform="translate(783.30,587.07) scale(1,1.06)" text-anchor="start" font-size="7.0">1</text>
<line x1="779.60" y1="542.09" x2="781.50" y2="542.09" stroke="#000" stroke-width="0.65"/>
<text transform="translate(783.30,545.39) scale(1,1.06)" text-anchor="start" font-size="7.0">2</text>
<line x1="779.60" y1="500.41" x2="781.50" y2="500.41" stroke="#000" stroke-width="0.65"/>
<text transform="translate(783.30,503.71) scale(1,1.06)" text-anchor="start" font-size="7.0">3</text>
<line x1="779.60" y1="458.73" x2="781.50" y2="458.73" stroke="#000" stroke-width="0.65"/>
<text transform="translate(783.30,462.03) scale(1,1.06)" text-anchor="start" font-size="7.0">4</text>
<line x1="779.60" y1="417.05" x2="781.50" y2="417.05" stroke="#000" stroke-width="0.65"/>
<text transform="translate(783.30,420.35) scale(1,1.06)" text-anchor="start" font-size="7.0">5</text>
<text transform="translate(799.20,521.25) rotate(-90)" text-anchor="middle" font-size="8.15" font-family="'DejaVu Sans','Liberation Sans',sans-serif">ln(<tspan font-style="italic">β</tspan>)</text>
<text transform="translate(642.15,682.00) scale(1.08,1.12)" text-anchor="middle" font-size="15.9" letter-spacing="0.3" font-family="'Liberation Serif','DejaVu Serif',serif" class="cap">(b)</text>
</g>
<g>
<rect x="864.40" y="417.05" width="37.29" height="15.89" fill="#fde1de"/>
<rect x="864.40" y="431.94" width="37.29" height="15.89" fill="#fde1de"/>
<rect x="864.40" y="446.82" width="37.29" height="15.89" fill="#fee9e5"/>
<rect x="864.40" y="461.71" width="37.29" height="15.89" fill="#fee9e5"/>
<rect x="864.40" y="476.59" width="37.29" height="15.89" fill="#feede9"/>
<rect x="864.40" y="491.48" width="37.29" height="15.89" fill="#fee9e5"/>
<rect x="864.40" y="506.36" width="37.29" height="15.89" fill="#fef0ec"/>
<rect x="864.40" y="521.25" width="37.29" height="15.89" fill="#fff2ee"/>
<rect x="864.40" y="536.14" width="37.29" height="15.89" fill="#fff3f0"/>
<rect x="864.40" y="551.02" width="37.29" height="15.89" fill="#fff3f0"/>
<rect x="864.40" y="565.91" width="37.29" height="15.89" fill="#fff4f0"/>
<rect x="864.40" y="580.79" width="37.29" height="15.89" fill="#fff4f0"/>
<rect x="864.40" y="595.68" width="37.29" height="15.89" fill="#fff5f1"/>
<rect x="864.40" y="610.56" width="37.29" height="14.89" fill="#fff5f1"/>
<rect x="900.69" y="417.05" width="37.29" height="15.89" fill="#f564a0"/>
<rect x="900.69" y="431.94" width="37.29" height="15.89" fill="#ee559d"/>
<rect x="900.69" y="446.82" width="37.29" height="15.89" fill="#f98faf"/>
<rect x="900.69" y="461.71" width="37.29" height="15.89" fill="#faa2b6"/>
<rect x="900.69" y="476.59" width="37.29" height="15.89" fill="#fbacb9"/>
<rect x="900.69" y="491.48" width="37.29" height="15.89" fill="#fcc6c2"/>
<rect x="900.69" y="506.36" width="37.29" height="15.89" fill="#fccbc6"/>
<rect x="900.69" y="521.25" width="37.29" height="15.89" fill="#fdd3cf"/>
<rect x="900.69" y="536.14" width="37.29" height="15.89" fill="#fddedb"/>
<rect x="900.69" y="551.02" width="37.29" height="15.89" fill="#fde3e0"/>
<rect x="900.69" y="565.91" width="37.29" height="15.89" fill="#fde6e2"/>
<rect x="900.69" y="580.79" width="37.29" height="15.89" fill="#fee8e5"/>
<rect x="900.69" y="595.68" width="37.29" height="15.89" fill="#feeeeb"/>
<rect x="900.69" y="610.56" width="37.29" height="14.89" fill="#fff3ef"/>
<rect x="936.99" y="417.05" width="37.29" height="15.89" fill="#770176"/>
<rect x="936.99" y="431.94" width="37.29" height="15.89" fill="#99017b"/>
<rect x="936.99" y="446.82" width="37.29" height="15.89" fill="#b90d84"/>
<rect x="936.99" y="461.71" width="37.29" height="15.89" fill="#df3898"/>
<rect x="936.99" y="476.59" width="37.29" height="15.89" fill="#e5459a"/>
<rect x="936.99" y="491.48" width="37.29" height="15.89" fill="#f881aa"/>
<rect x="936.99" y="506.36" width="37.29" height="15.89" fill="#faa2b6"/>
<rect x="936.99" y="521.25" width="37.29" height="15.89" fill="#fbafba"/>
<rect x="936.99" y="536.14" width="37.29" height="15.89" fill="#fccbc6"/>
<rect x="936.99" y="551.02" width="37.29" height="15.89" fill="#fdd3cf"/>
<rect x="936.99" y="565.91" width="37.29" height="15.89" fill="#fddedb"/>
<rect x="936.99" y="580.79" width="37.29" height="15.89" fill="#fde3e0"/>
<rect x="936.99" y="595.68" width="37.29" height="15.89" fill="#fee8e5"/>
<rect x="936.99" y="610.56" width="37.29" height="14.89" fill="#fef0ec"/>
<rect x="973.28" y="417.05" width="37.29" height="15.89" fill="#49006a"/>
<rect x="973.28" y="431.94" width="37.29" height="15.89" fill="#49006a"/>
<rect x="973.28" y="446.82" width="37.29" height="15.89" fill="#49006a"/>
<rect x="973.28" y="461.71" width="37.29" height="15.89" fill="#6f0174"/>
<rect x="973.28" y="476.59" width="37.29" height="15.89" fill="#870179"/>
<rect x="973.28" y="491.48" width="37.29" height="15.89" fill="#c71d8c"/>
<rect x="973.28" y="506.36" width="37.29" height="15.89" fill="#e5459a"/>
<rect x="973.28" y="521.25" width="37.29" height="15.89" fill="#f770a4"/>
<rect x="973.28" y="536.14" width="37.29" height="15.89" fill="#f994b1"/>
<rect x="973.28" y="551.02" width="37.29" height="15.89" fill="#fbb8bc"/>
<rect x="973.28" y="565.91" width="37.29" height="15.89" fill="#fccbc6"/>
<rect x="973.28" y="580.79" width="37.29" height="15.89" fill="#fdd9d6"/>
<rect x="973.28" y="595.68" width="37.29" height="15.89" fill="#fde3e0"/>
<rect x="973.28" y="610.56" width="37.29" height="14.89" fill="#feeeeb"/>
<rect x="1009.57" y="417.05" width="37.29" height="15.89" fill="#49006a"/>
<rect x="1009.57" y="431.94" width="37.29" height="15.89" fill="#49006a"/>
<rect x="1009.57" y="446.82" width="37.29" height="15.89" fill="#49006a"/>
<rect x="1009.57" y="461.71" width="37.29" height="15.89" fill="#49006a"/>
<rect x="1009.57" y="476.59" width="37.29" height="15.89" fill="#49006a"/>
<rect x="1009.57" y="491.48" width="37.29" height="15.89" fill="#58006e"/>
<rect x="1009.57" y="506.36" width="37.29" height="15.89" fill="#810178"/>
<rect x="1009.57" y="521.25" width="37.29" height="15.89" fill="#c01588"/>
<rect x="1009.57" y="536.14" width="37.29" height="15.89" fill="#ea4d9c"/>
<rect x="1009.57" y="551.02" width="37.29" height="15.89" fill="#f98faf"/>
<rect x="1009.57" y="565.91" width="37.29" height="15.89" fill="#fbacb9"/>
<rect x="1009.57" y="580.79" width="37.29" height="15.89" fill="#fccfcb"/>
<rect x="1009.57" y="595.68" width="37.29" height="15.89" fill="#fddedb"/>
<rect x="1009.57" y="610.56" width="37.29" height="14.89" fill="#feece9"/>
<rect x="1045.86" y="417.05" width="37.29" height="15.89" fill="#49006a"/>
<rect x="1045.86" y="431.94" width="37.29" height="15.89" fill="#49006a"/>
<rect x="1045.86" y="446.82" width="37.29" height="15.89" fill="#49006a"/>
<rect x="1045.86" y="461.71" width="37.29" height="15.89" fill="#49006a"/>
<rect x="1045.86" y="476.59" width="37.29" height="15.89" fill="#49006a"/>
<rect x="1045.86" y="491.48" width="37.29" height="15.89" fill="#49006a"/>
<rect x="1045.86" y="506.36" width="37.29" height="15.89" fill="#49006a"/>
<rect x="1045.86" y="521.25" width="37.29" height="15.89" fill="#58006e"/>
<rect x="1045.86" y="536.14" width="37.29" height="15.89" fill="#aa017d"/>
<rect x="1045.86" y="551.02" width="37.29" height="15.89" fill="#ed549d"/>
<rect x="1045.86" y="565.91" width="37.29" height="15.89" fill="#fa97b2"/>
<rect x="1045.86" y="580.79" width="37.29" height="15.89" fill="#fbb8bc"/>
<rect x="1045.86" y="595.68" width="37.29" height="15.89" fill="#fcd0cc"/>
<rect x="1045.86" y="610.56" width="37.29" height="14.89" fill="#fde3e0"/>
<rect x="1082.16" y="417.05" width="36.29" height="15.89" fill="#49006a"/>
<rect x="1082.16" y="431.94" width="36.29" height="15.89" fill="#49006a"/>
<rect x="1082.16" y="446.82" width="36.29" height="15.89" fill="#49006a"/>
<rect x="1082.16" y="461.71" width="36.29" height="15.89" fill="#49006a"/>
<rect x="1082.16" y="476.59" width="36.29" height="15.89" fill="#49006a"/>
<rect x="1082.16" y="491.48" width="36.29" height="15.89" fill="#49006a"/>
<rect x="1082.16" y="506.36" width="36.29" height="15.89" fill="#49006a"/>
<rect x="1082.16" y="521.25" width="36.29" height="15.89" fill="#49006a"/>
<rect x="1082.16" y="536.14" width="36.29" height="15.89" fill="#600070"/>
<rect x="1082.16" y="551.02" width="36.29" height="15.89" fill="#b90d84"/>
<rect x="1082.16" y="565.91" width="36.29" height="15.89" fill="#e5459a"/>
<rect x="1082.16" y="580.79" width="36.29" height="15.89" fill="#faa1b6"/>
<rect x="1082.16" y="595.68" width="36.29" height="15.89" fill="#fcc7c3"/>
<rect x="1082.16" y="610.56" width="36.29" height="14.89" fill="#fddedb"/>
<rect x="864.40" y="417.05" width="254.05" height="208.40" fill="none" stroke="#000" stroke-width="0.65"/>
<line x1="882.55" y1="625.45" x2="882.55" y2="627.65" stroke="#000" stroke-width="0.65"/>
<text transform="translate(882.55,635.75) scale(1,1.06)" text-anchor="middle" font-size="7.95">3e-4</text>
<line x1="918.84" y1="625.45" x2="918.84" y2="627.65" stroke="#000" stroke-width="0.65"/>
<text transform="translate(918.84,635.75) scale(1,1.06)" text-anchor="middle" font-size="7.95">1e-3</text>
<line x1="955.13" y1="625.45" x2="955.13" y2="627.65" stroke="#000" stroke-width="0.65"/>
<text transform="translate(955.13,635.75) scale(1,1.06)" text-anchor="middle" font-size="7.95">1.7e-3</text>
<line x1="991.42" y1="625.45" x2="991.42" y2="627.65" stroke="#000" stroke-width="0.65"/>
<text transform="translate(991.42,635.75) scale(1,1.06)" text-anchor="middle" font-size="7.95">3e-3</text>
<line x1="1027.72" y1="625.45" x2="1027.72" y2="627.65" stroke="#000" stroke-width="0.65"/>
<text transform="translate(1027.72,635.75) scale(1,1.06)" text-anchor="middle" font-size="7.95">5e-3</text>
<line x1="1064.01" y1="625.45" x2="1064.01" y2="627.65" stroke="#000" stroke-width="0.65"/>
<text transform="translate(1064.01,635.75) scale(1,1.06)" text-anchor="middle" font-size="7.95">1e-2</text>
<line x1="1100.30" y1="625.45" x2="1100.30" y2="627.65" stroke="#000" stroke-width="0.65"/>
<text transform="translate(1100.30,635.75) scale(1,1.06)" text-anchor="middle" font-size="7.95">3e-2</text>
<text transform="translate(991.42,645.95) scale(1,1.06)" text-anchor="middle" font-size="8.05">Abundances</text>
<line x1="862.20" y1="424.49" x2="864.40" y2="424.49" stroke="#000" stroke-width="0.65"/>
<text transform="translate(860.60,427.84) scale(1,1.06)" text-anchor="end" font-size="7.95">3.84</text>
<line x1="862.20" y1="454.26" x2="864.40" y2="454.26" stroke="#000" stroke-width="0.65"/>
<text transform="translate(860.60,457.61) scale(1,1.06)" text-anchor="end" font-size="7.95">2.94</text>
<line x1="862.20" y1="484.04" x2="864.40" y2="484.04" stroke="#000" stroke-width="0.65"/>
<text transform="translate(860.60,487.39) scale(1,1.06)" text-anchor="end" font-size="7.95">2.16</text>
<line x1="862.20" y1="513.81" x2="864.40" y2="513.81" stroke="#000" stroke-width="0.65"/>
<text transform="translate(860.60,517.16) scale(1,1.06)" text-anchor="end" font-size="7.95">1.5</text>
<line x1="862.20" y1="543.58" x2="864.40" y2="543.58" stroke="#000" stroke-width="0.65"/>
<text transform="translate(860.60,546.93) scale(1,1.06)" text-anchor="end" font-size="7.95">0.96</text>
<line x1="862.20" y1="573.35" x2="864.40" y2="573.35" stroke="#000" stroke-width="0.65"/>
<text transform="translate(860.60,576.70) scale(1,1.06)" text-anchor="end" font-size="7.95">0.54</text>
<line x1="862.20" y1="603.12" x2="864.40" y2="603.12" stroke="#000" stroke-width="0.65"/>
<text transform="translate(860.60,606.47) scale(1,1.06)" text-anchor="end" font-size="7.95">0.24</text>
<text transform="translate(839.00,521.75) rotate(-90)" text-anchor="middle" font-size="8.05">Normalized Exposure Time</text>
<text transform="translate(991.42,414.65) scale(1,1.06)" text-anchor="middle" font-size="8.05">Detectability at 0.94 µm; 3% Bandwidth</text>
<rect x="1134.55" y="417.05" width="10.20" height="208.40" fill="url(#rdpu)" stroke="#000" stroke-width="0.55"/>
<line x1="1144.75" y1="625.45" x2="1146.65" y2="625.45" stroke="#000" stroke-width="0.65"/>
<text transform="translate(1148.45,628.75) scale(1,1.06)" text-anchor="start" font-size="7.0">0</text>
<line x1="1144.75" y1="583.77" x2="1146.65" y2="583.77" stroke="#000" stroke-width="0.65"/>
<text transform="translate(1148.45,587.07) scale(1,1.06)" text-anchor="start" font-size="7.0">1</text>
<line x1="1144.75" y1="542.09" x2="1146.65" y2="542.09" stroke="#000" stroke-width="0.65"/>
<text transform="translate(1148.45,545.39) scale(1,1.06)" text-anchor="start" font-size="7.0">2</text>
<line x1="1144.75" y1="500.41" x2="1146.65" y2="500.41" stroke="#000" stroke-width="0.65"/>
<text transform="translate(1148.45,503.71) scale(1,1.06)" text-anchor="start" font-size="7.0">3</text>
<line x1="1144.75" y1="458.73" x2="1146.65" y2="458.73" stroke="#000" stroke-width="0.65"/>
<text transform="translate(1148.45,462.03) scale(1,1.06)" text-anchor="start" font-size="7.0">4</text>
<line x1="1144.75" y1="417.05" x2="1146.65" y2="417.05" stroke="#000" stroke-width="0.65"/>
<text transform="translate(1148.45,420.35) scale(1,1.06)" text-anchor="start" font-size="7.0">5</text>
<text transform="translate(1164.35,521.25) rotate(-90)" text-anchor="middle" font-size="8.15" font-family="'DejaVu Sans','Liberation Sans',sans-serif">ln(<tspan font-style="italic">β</tspan>)</text>
<text transform="translate(1007.00,682.00) scale(1.08,1.12)" text-anchor="middle" font-size="15.9" letter-spacing="0.3" font-family="'Liberation Serif','DejaVu Serif',serif" class="cap">(c)</text>
</g>
</svg>
</body></html>
